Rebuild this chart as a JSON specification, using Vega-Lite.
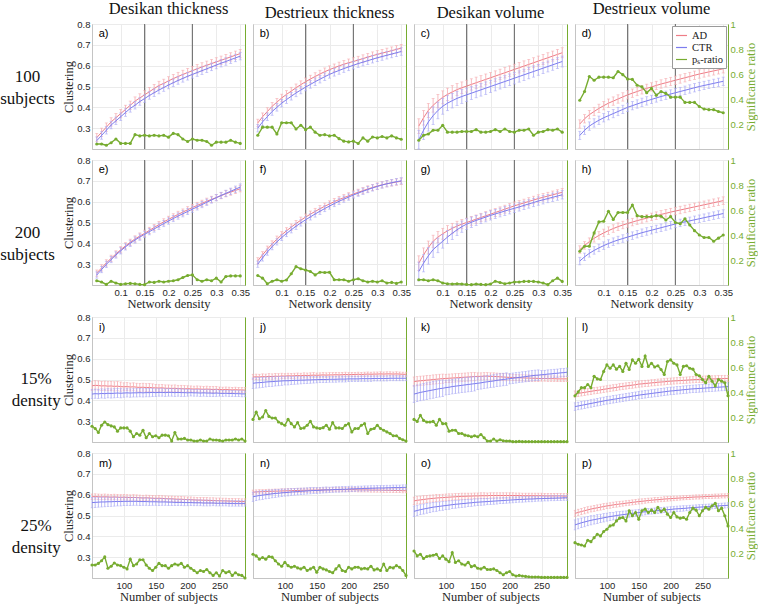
{"$schema":"https://vega.github.io/schema/vega-lite/v6.json","background":"white","padding":{"left":0,"top":0,"right":0,"bottom":0},
"config":{"view":{"stroke":"#c4c4c4"},"axis":{"minExtent":0,"labelOverlap":false,"labelFlush":false,"labelBound":false,"domainColor":"#c4c4c4","gridColor":"#ebebeb","ticks":false,"tickSize":0,"labelFont":"Liberation Sans","labelFontSize":9.5,"labelColor":"#262626","labelPadding":2,"titleFont":"Liberation Serif","titleFontSize":12.5,"titleFontWeight":"normal","titleColor":"#262626","titlePadding":1},"title":{"font":"Liberation Serif","fontSize":16.5,"fontWeight":"normal","color":"#111111"}},
"datasets":{"v":[{"v":0.15},{"v":0.25}],
"d":[
{"p":"a","x":0.05,"a":0.255,"ae":0.02,"c":0.24,"ce":0.018,"r":0.04},{"p":"a","x":0.06,"a":0.28,"ae":0.02,"c":0.265,"ce":0.018,"r":0.04},{"p":"a","x":0.07,"a":0.305,"ae":0.02,"c":0.29,"ce":0.018,"r":0.03},{"p":"a","x":0.08,"a":0.33,"ae":0.02,"c":0.315,"ce":0.018,"r":0.05},{"p":"a","x":0.09,"a":0.35,"ae":0.02,"c":0.335,"ce":0.018,"r":0.08},{"p":"a","x":0.1,"a":0.37,"ae":0.02,"c":0.355,"ce":0.018,"r":0.045},{"p":"a","x":0.11,"a":0.39,"ae":0.02,"c":0.375,"ce":0.018,"r":0.045},{"p":"a","x":0.12,"a":0.41,"ae":0.02,"c":0.395,"ce":0.018,"r":0.045},{"p":"a","x":0.13,"a":0.43,"ae":0.02,"c":0.41,"ce":0.018,"r":0.115},{"p":"a","x":0.14,"a":0.445,"ae":0.02,"c":0.428,"ce":0.018,"r":0.105},{"p":"a","x":0.15,"a":0.46,"ae":0.02,"c":0.442,"ce":0.018,"r":0.11},{"p":"a","x":0.16,"a":0.475,"ae":0.02,"c":0.457,"ce":0.018,"r":0.105},{"p":"a","x":0.17,"a":0.49,"ae":0.02,"c":0.47,"ce":0.018,"r":0.11},{"p":"a","x":0.18,"a":0.505,"ae":0.02,"c":0.483,"ce":0.018,"r":0.105},{"p":"a","x":0.19,"a":0.515,"ae":0.02,"c":0.495,"ce":0.018,"r":0.11},{"p":"a","x":0.2,"a":0.527,"ae":0.02,"c":0.507,"ce":0.018,"r":0.095},{"p":"a","x":0.21,"a":0.538,"ae":0.02,"c":0.518,"ce":0.018,"r":0.125},{"p":"a","x":0.22,"a":0.548,"ae":0.02,"c":0.529,"ce":0.018,"r":0.115},{"p":"a","x":0.23,"a":0.558,"ae":0.02,"c":0.539,"ce":0.018,"r":0.08},{"p":"a","x":0.24,"a":0.567,"ae":0.02,"c":0.549,"ce":0.018,"r":0.06},{"p":"a","x":0.25,"a":0.576,"ae":0.02,"c":0.558,"ce":0.018,"r":0.08},{"p":"a","x":0.26,"a":0.585,"ae":0.02,"c":0.567,"ce":0.018,"r":0.07},{"p":"a","x":0.27,"a":0.594,"ae":0.02,"c":0.576,"ce":0.018,"r":0.07},{"p":"a","x":0.28,"a":0.602,"ae":0.02,"c":0.585,"ce":0.018,"r":0.06},{"p":"a","x":0.29,"a":0.61,"ae":0.02,"c":0.594,"ce":0.018,"r":0.03},{"p":"a","x":0.3,"a":0.618,"ae":0.02,"c":0.603,"ce":0.018,"r":0.055},{"p":"a","x":0.31,"a":0.626,"ae":0.02,"c":0.612,"ce":0.018,"r":0.055},{"p":"a","x":0.32,"a":0.634,"ae":0.02,"c":0.62,"ce":0.018,"r":0.055},{"p":"a","x":0.33,"a":0.642,"ae":0.02,"c":0.629,"ce":0.018,"r":0.07},{"p":"a","x":0.34,"a":0.65,"ae":0.02,"c":0.637,"ce":0.018,"r":0.055},{"p":"a","x":0.35,"a":0.658,"ae":0.02,"c":0.646,"ce":0.018,"r":0.045},
{"p":"b","x":0.05,"a":0.325,"ae":0.018,"c":0.3,"ce":0.018,"r":0.11},{"p":"b","x":0.06,"a":0.355,"ae":0.018,"c":0.33,"ce":0.018,"r":0.175},{"p":"b","x":0.07,"a":0.38,"ae":0.018,"c":0.355,"ce":0.018,"r":0.175},{"p":"b","x":0.08,"a":0.405,"ae":0.018,"c":0.38,"ce":0.018,"r":0.175},{"p":"b","x":0.09,"a":0.425,"ae":0.018,"c":0.4,"ce":0.018,"r":0.12},{"p":"b","x":0.1,"a":0.445,"ae":0.018,"c":0.42,"ce":0.018,"r":0.21},{"p":"b","x":0.11,"a":0.462,"ae":0.018,"c":0.437,"ce":0.018,"r":0.21},{"p":"b","x":0.12,"a":0.478,"ae":0.018,"c":0.453,"ce":0.018,"r":0.21},{"p":"b","x":0.13,"a":0.494,"ae":0.018,"c":0.469,"ce":0.018,"r":0.16},{"p":"b","x":0.14,"a":0.509,"ae":0.018,"c":0.483,"ce":0.018,"r":0.19},{"p":"b","x":0.15,"a":0.523,"ae":0.018,"c":0.497,"ce":0.018,"r":0.155},{"p":"b","x":0.16,"a":0.536,"ae":0.018,"c":0.51,"ce":0.018,"r":0.175},{"p":"b","x":0.17,"a":0.548,"ae":0.018,"c":0.523,"ce":0.018,"r":0.135},{"p":"b","x":0.18,"a":0.56,"ae":0.018,"c":0.535,"ce":0.018,"r":0.11},{"p":"b","x":0.19,"a":0.571,"ae":0.018,"c":0.547,"ce":0.018,"r":0.115},{"p":"b","x":0.2,"a":0.581,"ae":0.018,"c":0.558,"ce":0.018,"r":0.105},{"p":"b","x":0.21,"a":0.59,"ae":0.018,"c":0.568,"ce":0.018,"r":0.11},{"p":"b","x":0.22,"a":0.599,"ae":0.018,"c":0.577,"ce":0.018,"r":0.083},{"p":"b","x":0.23,"a":0.607,"ae":0.018,"c":0.586,"ce":0.018,"r":0.063},{"p":"b","x":0.24,"a":0.614,"ae":0.018,"c":0.594,"ce":0.018,"r":0.057},{"p":"b","x":0.25,"a":0.62,"ae":0.018,"c":0.602,"ce":0.018,"r":0.063},{"p":"b","x":0.26,"a":0.627,"ae":0.018,"c":0.61,"ce":0.018,"r":0.044},{"p":"b","x":0.27,"a":0.634,"ae":0.018,"c":0.617,"ce":0.018,"r":0.089},{"p":"b","x":0.28,"a":0.641,"ae":0.018,"c":0.624,"ce":0.018,"r":0.063},{"p":"b","x":0.29,"a":0.648,"ae":0.018,"c":0.631,"ce":0.018,"r":0.096},{"p":"b","x":0.3,"a":0.654,"ae":0.018,"c":0.638,"ce":0.018,"r":0.089},{"p":"b","x":0.31,"a":0.66,"ae":0.018,"c":0.644,"ce":0.018,"r":0.1},{"p":"b","x":0.32,"a":0.666,"ae":0.018,"c":0.65,"ce":0.018,"r":0.089},{"p":"b","x":0.33,"a":0.672,"ae":0.018,"c":0.656,"ce":0.018,"r":0.105},{"p":"b","x":0.34,"a":0.678,"ae":0.018,"c":0.662,"ce":0.018,"r":0.089},{"p":"b","x":0.35,"a":0.684,"ae":0.018,"c":0.668,"ce":0.018,"r":0.078},
{"p":"c","x":0.05,"a":0.31,"ae":0.035,"c":0.245,"ce":0.045,"r":0.07},{"p":"c","x":0.06,"a":0.35,"ae":0.035,"c":0.29,"ce":0.045,"r":0.11},{"p":"c","x":0.07,"a":0.385,"ae":0.034,"c":0.33,"ce":0.044,"r":0.12},{"p":"c","x":0.08,"a":0.41,"ae":0.033,"c":0.36,"ce":0.042,"r":0.15},{"p":"c","x":0.09,"a":0.43,"ae":0.032,"c":0.385,"ce":0.04,"r":0.15},{"p":"c","x":0.1,"a":0.448,"ae":0.031,"c":0.405,"ce":0.038,"r":0.19},{"p":"c","x":0.11,"a":0.462,"ae":0.03,"c":0.42,"ce":0.036,"r":0.135},{"p":"c","x":0.12,"a":0.474,"ae":0.03,"c":0.432,"ce":0.035,"r":0.135},{"p":"c","x":0.13,"a":0.485,"ae":0.029,"c":0.443,"ce":0.034,"r":0.135},{"p":"c","x":0.14,"a":0.494,"ae":0.028,"c":0.452,"ce":0.033,"r":0.14},{"p":"c","x":0.15,"a":0.502,"ae":0.028,"c":0.46,"ce":0.032,"r":0.14},{"p":"c","x":0.16,"a":0.51,"ae":0.027,"c":0.468,"ce":0.031,"r":0.14},{"p":"c","x":0.17,"a":0.518,"ae":0.027,"c":0.476,"ce":0.03,"r":0.155},{"p":"c","x":0.18,"a":0.526,"ae":0.026,"c":0.484,"ce":0.03,"r":0.135},{"p":"c","x":0.19,"a":0.534,"ae":0.026,"c":0.492,"ce":0.03,"r":0.135},{"p":"c","x":0.2,"a":0.542,"ae":0.025,"c":0.5,"ce":0.029,"r":0.14},{"p":"c","x":0.21,"a":0.55,"ae":0.025,"c":0.508,"ce":0.029,"r":0.155},{"p":"c","x":0.22,"a":0.558,"ae":0.025,"c":0.516,"ce":0.028,"r":0.14},{"p":"c","x":0.23,"a":0.566,"ae":0.025,"c":0.524,"ce":0.028,"r":0.16},{"p":"c","x":0.24,"a":0.574,"ae":0.025,"c":0.532,"ce":0.028,"r":0.14},{"p":"c","x":0.25,"a":0.582,"ae":0.025,"c":0.54,"ce":0.028,"r":0.135},{"p":"c","x":0.26,"a":0.59,"ae":0.025,"c":0.548,"ce":0.027,"r":0.15},{"p":"c","x":0.27,"a":0.598,"ae":0.025,"c":0.556,"ce":0.027,"r":0.15},{"p":"c","x":0.28,"a":0.606,"ae":0.024,"c":0.564,"ce":0.027,"r":0.16},{"p":"c","x":0.29,"a":0.614,"ae":0.024,"c":0.572,"ce":0.027,"r":0.11},{"p":"c","x":0.3,"a":0.622,"ae":0.024,"c":0.58,"ce":0.026,"r":0.135},{"p":"c","x":0.31,"a":0.63,"ae":0.024,"c":0.588,"ce":0.026,"r":0.14},{"p":"c","x":0.32,"a":0.638,"ae":0.024,"c":0.596,"ce":0.026,"r":0.155},{"p":"c","x":0.33,"a":0.646,"ae":0.024,"c":0.604,"ce":0.026,"r":0.15},{"p":"c","x":0.34,"a":0.654,"ae":0.024,"c":0.612,"ce":0.026,"r":0.16},{"p":"c","x":0.35,"a":0.662,"ae":0.024,"c":0.62,"ce":0.026,"r":0.135},
{"p":"d","x":0.05,"a":0.32,"ae":0.02,"c":0.265,"ce":0.02,"r":0.39},{"p":"d","x":0.06,"a":0.345,"ae":0.02,"c":0.29,"ce":0.02,"r":0.46},{"p":"d","x":0.07,"a":0.365,"ae":0.02,"c":0.31,"ce":0.02,"r":0.58},{"p":"d","x":0.08,"a":0.38,"ae":0.02,"c":0.325,"ce":0.02,"r":0.55},{"p":"d","x":0.09,"a":0.395,"ae":0.02,"c":0.338,"ce":0.02,"r":0.575},{"p":"d","x":0.1,"a":0.408,"ae":0.02,"c":0.35,"ce":0.02,"r":0.575},{"p":"d","x":0.11,"a":0.42,"ae":0.02,"c":0.36,"ce":0.02,"r":0.575},{"p":"d","x":0.12,"a":0.43,"ae":0.02,"c":0.37,"ce":0.02,"r":0.57},{"p":"d","x":0.13,"a":0.44,"ae":0.02,"c":0.38,"ce":0.02,"r":0.62},{"p":"d","x":0.14,"a":0.45,"ae":0.02,"c":0.39,"ce":0.02,"r":0.595},{"p":"d","x":0.15,"a":0.46,"ae":0.02,"c":0.4,"ce":0.02,"r":0.56},{"p":"d","x":0.16,"a":0.468,"ae":0.02,"c":0.408,"ce":0.02,"r":0.557},{"p":"d","x":0.17,"a":0.476,"ae":0.02,"c":0.416,"ce":0.02,"r":0.51},{"p":"d","x":0.18,"a":0.484,"ae":0.02,"c":0.424,"ce":0.02,"r":0.497},{"p":"d","x":0.19,"a":0.491,"ae":0.02,"c":0.431,"ce":0.02,"r":0.45},{"p":"d","x":0.2,"a":0.498,"ae":0.02,"c":0.438,"ce":0.02,"r":0.485},{"p":"d","x":0.21,"a":0.505,"ae":0.02,"c":0.445,"ce":0.02,"r":0.43},{"p":"d","x":0.22,"a":0.512,"ae":0.02,"c":0.452,"ce":0.02,"r":0.46},{"p":"d","x":0.23,"a":0.518,"ae":0.02,"c":0.458,"ce":0.02,"r":0.445},{"p":"d","x":0.24,"a":0.524,"ae":0.02,"c":0.464,"ce":0.02,"r":0.415},{"p":"d","x":0.25,"a":0.53,"ae":0.02,"c":0.47,"ce":0.02,"r":0.415},{"p":"d","x":0.26,"a":0.536,"ae":0.02,"c":0.476,"ce":0.02,"r":0.415},{"p":"d","x":0.27,"a":0.542,"ae":0.02,"c":0.482,"ce":0.02,"r":0.373},{"p":"d","x":0.28,"a":0.548,"ae":0.02,"c":0.488,"ce":0.02,"r":0.373},{"p":"d","x":0.29,"a":0.554,"ae":0.02,"c":0.494,"ce":0.02,"r":0.373},{"p":"d","x":0.3,"a":0.56,"ae":0.02,"c":0.5,"ce":0.02,"r":0.34},{"p":"d","x":0.31,"a":0.565,"ae":0.02,"c":0.505,"ce":0.02,"r":0.32},{"p":"d","x":0.32,"a":0.57,"ae":0.02,"c":0.51,"ce":0.02,"r":0.315},{"p":"d","x":0.33,"a":0.575,"ae":0.02,"c":0.515,"ce":0.02,"r":0.315},{"p":"d","x":0.34,"a":0.58,"ae":0.02,"c":0.52,"ce":0.02,"r":0.3},{"p":"d","x":0.35,"a":0.585,"ae":0.02,"c":0.525,"ce":0.02,"r":0.29},
{"p":"e","x":0.05,"a":0.257,"ae":0.015,"c":0.248,"ce":0.015,"r":0.034},{"p":"e","x":0.06,"a":0.282,"ae":0.015,"c":0.274,"ce":0.015,"r":0.024},{"p":"e","x":0.07,"a":0.306,"ae":0.015,"c":0.299,"ce":0.015,"r":0.005},{"p":"e","x":0.08,"a":0.328,"ae":0.015,"c":0.322,"ce":0.015,"r":0.03},{"p":"e","x":0.09,"a":0.349,"ae":0.015,"c":0.344,"ce":0.015,"r":0.016},{"p":"e","x":0.1,"a":0.369,"ae":0.015,"c":0.364,"ce":0.015,"r":0.005},{"p":"e","x":0.11,"a":0.388,"ae":0.015,"c":0.383,"ce":0.015,"r":0.01},{"p":"e","x":0.12,"a":0.405,"ae":0.015,"c":0.4,"ce":0.015,"r":0.013},{"p":"e","x":0.13,"a":0.421,"ae":0.015,"c":0.416,"ce":0.015,"r":0.01},{"p":"e","x":0.14,"a":0.435,"ae":0.015,"c":0.43,"ce":0.015,"r":0.005},{"p":"e","x":0.15,"a":0.448,"ae":0.015,"c":0.443,"ce":0.015,"r":0.003},{"p":"e","x":0.16,"a":0.462,"ae":0.015,"c":0.456,"ce":0.015,"r":0.024},{"p":"e","x":0.17,"a":0.476,"ae":0.015,"c":0.469,"ce":0.015,"r":0.021},{"p":"e","x":0.18,"a":0.49,"ae":0.015,"c":0.482,"ce":0.015,"r":0.03},{"p":"e","x":0.19,"a":0.503,"ae":0.015,"c":0.495,"ce":0.015,"r":0.024},{"p":"e","x":0.2,"a":0.515,"ae":0.015,"c":0.507,"ce":0.015,"r":0.03},{"p":"e","x":0.21,"a":0.527,"ae":0.015,"c":0.519,"ce":0.015,"r":0.034},{"p":"e","x":0.22,"a":0.539,"ae":0.015,"c":0.531,"ce":0.015,"r":0.042},{"p":"e","x":0.23,"a":0.55,"ae":0.015,"c":0.542,"ce":0.015,"r":0.06},{"p":"e","x":0.24,"a":0.561,"ae":0.015,"c":0.553,"ce":0.015,"r":0.076},{"p":"e","x":0.25,"a":0.572,"ae":0.015,"c":0.564,"ce":0.015,"r":0.081},{"p":"e","x":0.26,"a":0.582,"ae":0.015,"c":0.575,"ce":0.015,"r":0.042},{"p":"e","x":0.27,"a":0.592,"ae":0.015,"c":0.586,"ce":0.015,"r":0.03},{"p":"e","x":0.28,"a":0.602,"ae":0.015,"c":0.597,"ce":0.015,"r":0.042},{"p":"e","x":0.29,"a":0.611,"ae":0.015,"c":0.608,"ce":0.015,"r":0.034},{"p":"e","x":0.3,"a":0.62,"ae":0.015,"c":0.619,"ce":0.015,"r":0.055},{"p":"e","x":0.31,"a":0.629,"ae":0.015,"c":0.63,"ce":0.015,"r":0.024},{"p":"e","x":0.32,"a":0.638,"ae":0.015,"c":0.64,"ce":0.015,"r":0.068},{"p":"e","x":0.33,"a":0.646,"ae":0.015,"c":0.65,"ce":0.015,"r":0.073},{"p":"e","x":0.34,"a":0.654,"ae":0.015,"c":0.66,"ce":0.015,"r":0.073},{"p":"e","x":0.35,"a":0.662,"ae":0.015,"c":0.67,"ce":0.015,"r":0.073},
{"p":"f","x":0.05,"a":0.316,"ae":0.015,"c":0.3,"ce":0.015,"r":0.076},{"p":"f","x":0.06,"a":0.345,"ae":0.015,"c":0.33,"ce":0.015,"r":0.055},{"p":"f","x":0.07,"a":0.372,"ae":0.015,"c":0.358,"ce":0.015,"r":0.01},{"p":"f","x":0.08,"a":0.397,"ae":0.015,"c":0.384,"ce":0.015,"r":0.03},{"p":"f","x":0.09,"a":0.42,"ae":0.015,"c":0.407,"ce":0.015,"r":0.042},{"p":"f","x":0.1,"a":0.441,"ae":0.015,"c":0.428,"ce":0.015,"r":0.03},{"p":"f","x":0.11,"a":0.46,"ae":0.015,"c":0.447,"ce":0.015,"r":0.04},{"p":"f","x":0.12,"a":0.478,"ae":0.015,"c":0.465,"ce":0.015,"r":0.09},{"p":"f","x":0.13,"a":0.495,"ae":0.015,"c":0.482,"ce":0.015,"r":0.147},{"p":"f","x":0.14,"a":0.511,"ae":0.015,"c":0.498,"ce":0.015,"r":0.13},{"p":"f","x":0.15,"a":0.526,"ae":0.015,"c":0.513,"ce":0.015,"r":0.12},{"p":"f","x":0.16,"a":0.54,"ae":0.015,"c":0.527,"ce":0.015,"r":0.108},{"p":"f","x":0.17,"a":0.553,"ae":0.015,"c":0.541,"ce":0.015,"r":0.081},{"p":"f","x":0.18,"a":0.566,"ae":0.015,"c":0.554,"ce":0.015,"r":0.102},{"p":"f","x":0.19,"a":0.578,"ae":0.015,"c":0.567,"ce":0.015,"r":0.1},{"p":"f","x":0.2,"a":0.589,"ae":0.015,"c":0.579,"ce":0.015,"r":0.102},{"p":"f","x":0.21,"a":0.6,"ae":0.015,"c":0.591,"ce":0.015,"r":0.042},{"p":"f","x":0.22,"a":0.61,"ae":0.015,"c":0.602,"ce":0.015,"r":0.042},{"p":"f","x":0.23,"a":0.619,"ae":0.015,"c":0.612,"ce":0.015,"r":0.042},{"p":"f","x":0.24,"a":0.628,"ae":0.015,"c":0.622,"ce":0.015,"r":0.03},{"p":"f","x":0.25,"a":0.637,"ae":0.015,"c":0.632,"ce":0.015,"r":0.042},{"p":"f","x":0.26,"a":0.645,"ae":0.015,"c":0.641,"ce":0.015,"r":0.05},{"p":"f","x":0.27,"a":0.653,"ae":0.015,"c":0.65,"ce":0.015,"r":0.034},{"p":"f","x":0.28,"a":0.661,"ae":0.015,"c":0.658,"ce":0.015,"r":0.024},{"p":"f","x":0.29,"a":0.668,"ae":0.015,"c":0.666,"ce":0.015,"r":0.03},{"p":"f","x":0.3,"a":0.675,"ae":0.015,"c":0.673,"ce":0.015,"r":0.024},{"p":"f","x":0.31,"a":0.681,"ae":0.015,"c":0.68,"ce":0.015,"r":0.034},{"p":"f","x":0.32,"a":0.686,"ae":0.015,"c":0.686,"ce":0.015,"r":0.016},{"p":"f","x":0.33,"a":0.69,"ae":0.015,"c":0.691,"ce":0.015,"r":0.021},{"p":"f","x":0.34,"a":0.694,"ae":0.015,"c":0.696,"ce":0.015,"r":0.013},{"p":"f","x":0.35,"a":0.698,"ae":0.015,"c":0.7,"ce":0.015,"r":0.024},
{"p":"g","x":0.05,"a":0.305,"ae":0.035,"c":0.265,"ce":0.045,"r":0.042},{"p":"g","x":0.06,"a":0.345,"ae":0.033,"c":0.305,"ce":0.042,"r":0.042},{"p":"g","x":0.07,"a":0.38,"ae":0.031,"c":0.34,"ce":0.04,"r":0.034},{"p":"g","x":0.08,"a":0.41,"ae":0.029,"c":0.37,"ce":0.037,"r":0.042},{"p":"g","x":0.09,"a":0.43,"ae":0.027,"c":0.39,"ce":0.035,"r":0.034},{"p":"g","x":0.1,"a":0.446,"ae":0.026,"c":0.41,"ce":0.033,"r":0.016},{"p":"g","x":0.11,"a":0.46,"ae":0.025,"c":0.43,"ce":0.031,"r":0.01},{"p":"g","x":0.12,"a":0.472,"ae":0.024,"c":0.448,"ce":0.03,"r":0.008},{"p":"g","x":0.13,"a":0.483,"ae":0.023,"c":0.465,"ce":0.028,"r":0.01},{"p":"g","x":0.14,"a":0.492,"ae":0.022,"c":0.48,"ce":0.027,"r":0.008},{"p":"g","x":0.15,"a":0.5,"ae":0.021,"c":0.492,"ce":0.026,"r":0.005},{"p":"g","x":0.16,"a":0.508,"ae":0.021,"c":0.501,"ce":0.025,"r":0.003},{"p":"g","x":0.17,"a":0.516,"ae":0.02,"c":0.51,"ce":0.024,"r":0.008},{"p":"g","x":0.18,"a":0.524,"ae":0.02,"c":0.518,"ce":0.023,"r":0.005},{"p":"g","x":0.19,"a":0.532,"ae":0.02,"c":0.526,"ce":0.023,"r":0.003},{"p":"g","x":0.2,"a":0.54,"ae":0.02,"c":0.534,"ce":0.022,"r":0.008},{"p":"g","x":0.21,"a":0.548,"ae":0.019,"c":0.541,"ce":0.022,"r":0.03},{"p":"g","x":0.22,"a":0.556,"ae":0.019,"c":0.548,"ce":0.021,"r":0.02},{"p":"g","x":0.23,"a":0.564,"ae":0.019,"c":0.555,"ce":0.021,"r":0.01},{"p":"g","x":0.24,"a":0.572,"ae":0.019,"c":0.562,"ce":0.021,"r":0.016},{"p":"g","x":0.25,"a":0.58,"ae":0.019,"c":0.568,"ce":0.02,"r":0.024},{"p":"g","x":0.26,"a":0.587,"ae":0.018,"c":0.575,"ce":0.02,"r":0.024},{"p":"g","x":0.27,"a":0.594,"ae":0.018,"c":0.582,"ce":0.02,"r":0.029},{"p":"g","x":0.28,"a":0.601,"ae":0.018,"c":0.589,"ce":0.02,"r":0.029},{"p":"g","x":0.29,"a":0.608,"ae":0.018,"c":0.596,"ce":0.02,"r":0.029},{"p":"g","x":0.3,"a":0.615,"ae":0.018,"c":0.603,"ce":0.02,"r":0.024},{"p":"g","x":0.31,"a":0.621,"ae":0.018,"c":0.609,"ce":0.02,"r":0.016},{"p":"g","x":0.32,"a":0.627,"ae":0.018,"c":0.615,"ce":0.02,"r":0.003},{"p":"g","x":0.33,"a":0.633,"ae":0.018,"c":0.621,"ce":0.02,"r":0.034},{"p":"g","x":0.34,"a":0.639,"ae":0.018,"c":0.627,"ce":0.02,"r":0.055},{"p":"g","x":0.35,"a":0.645,"ae":0.018,"c":0.633,"ce":0.02,"r":0.029},
{"p":"h","x":0.05,"a":0.37,"ae":0.018,"c":0.315,"ce":0.018,"r":0.27},{"p":"h","x":0.06,"a":0.39,"ae":0.018,"c":0.335,"ce":0.018,"r":0.31},{"p":"h","x":0.07,"a":0.408,"ae":0.018,"c":0.352,"ce":0.018,"r":0.31},{"p":"h","x":0.08,"a":0.424,"ae":0.018,"c":0.366,"ce":0.018,"r":0.417},{"p":"h","x":0.09,"a":0.438,"ae":0.018,"c":0.378,"ce":0.018,"r":0.505},{"p":"h","x":0.1,"a":0.45,"ae":0.018,"c":0.389,"ce":0.018,"r":0.51},{"p":"h","x":0.11,"a":0.461,"ae":0.018,"c":0.399,"ce":0.018,"r":0.59},{"p":"h","x":0.12,"a":0.471,"ae":0.018,"c":0.408,"ce":0.018,"r":0.525},{"p":"h","x":0.13,"a":0.48,"ae":0.018,"c":0.416,"ce":0.018,"r":0.58},{"p":"h","x":0.14,"a":0.488,"ae":0.018,"c":0.423,"ce":0.018,"r":0.58},{"p":"h","x":0.15,"a":0.495,"ae":0.018,"c":0.43,"ce":0.018,"r":0.58},{"p":"h","x":0.16,"a":0.502,"ae":0.018,"c":0.437,"ce":0.018,"r":0.64},{"p":"h","x":0.17,"a":0.509,"ae":0.018,"c":0.444,"ce":0.018,"r":0.555},{"p":"h","x":0.18,"a":0.515,"ae":0.018,"c":0.451,"ce":0.018,"r":0.547},{"p":"h","x":0.19,"a":0.521,"ae":0.018,"c":0.457,"ce":0.018,"r":0.547},{"p":"h","x":0.2,"a":0.527,"ae":0.018,"c":0.463,"ce":0.018,"r":0.547},{"p":"h","x":0.21,"a":0.533,"ae":0.018,"c":0.469,"ce":0.018,"r":0.555},{"p":"h","x":0.22,"a":0.539,"ae":0.018,"c":0.475,"ce":0.018,"r":0.55},{"p":"h","x":0.23,"a":0.544,"ae":0.018,"c":0.481,"ce":0.018,"r":0.52},{"p":"h","x":0.24,"a":0.55,"ae":0.018,"c":0.487,"ce":0.018,"r":0.547},{"p":"h","x":0.25,"a":0.555,"ae":0.018,"c":0.493,"ce":0.018,"r":0.5},{"p":"h","x":0.26,"a":0.56,"ae":0.018,"c":0.498,"ce":0.018,"r":0.49},{"p":"h","x":0.27,"a":0.565,"ae":0.018,"c":0.503,"ce":0.018,"r":0.53},{"p":"h","x":0.28,"a":0.57,"ae":0.018,"c":0.508,"ce":0.018,"r":0.48},{"p":"h","x":0.29,"a":0.575,"ae":0.018,"c":0.513,"ce":0.018,"r":0.435},{"p":"h","x":0.3,"a":0.58,"ae":0.018,"c":0.518,"ce":0.018,"r":0.4},{"p":"h","x":0.31,"a":0.585,"ae":0.018,"c":0.523,"ce":0.018,"r":0.38},{"p":"h","x":0.32,"a":0.59,"ae":0.018,"c":0.528,"ce":0.018,"r":0.38},{"p":"h","x":0.33,"a":0.595,"ae":0.018,"c":0.533,"ce":0.018,"r":0.35},{"p":"h","x":0.34,"a":0.6,"ae":0.018,"c":0.538,"ce":0.018,"r":0.375},{"p":"h","x":0.35,"a":0.605,"ae":0.018,"c":0.543,"ce":0.018,"r":0.4},
{"p":"i","x":50,"a":0.47,"ae":0.022,"c":0.43,"ce":0.022,"r":0.126},{"p":"i","x":55,"a":0.472,"ae":0.022,"c":0.432,"ce":0.022,"r":0.108},{"p":"i","x":60,"a":0.471,"ae":0.022,"c":0.431,"ce":0.022,"r":0.076},{"p":"i","x":65,"a":0.469,"ae":0.022,"c":0.433,"ce":0.022,"r":0.134},{"p":"i","x":70,"a":0.47,"ae":0.022,"c":0.432,"ce":0.022,"r":0.16},{"p":"i","x":75,"a":0.468,"ae":0.022,"c":0.434,"ce":0.022,"r":0.139},{"p":"i","x":80,"a":0.469,"ae":0.022,"c":0.433,"ce":0.022,"r":0.129},{"p":"i","x":85,"a":0.467,"ae":0.022,"c":0.434,"ce":0.022,"r":0.121},{"p":"i","x":90,"a":0.468,"ae":0.022,"c":0.435,"ce":0.022,"r":0.087},{"p":"i","x":95,"a":0.466,"ae":0.022,"c":0.434,"ce":0.022,"r":0.113},{"p":"i","x":100,"a":0.465,"ae":0.019,"c":0.435,"ce":0.02,"r":0.113},{"p":"i","x":105,"a":0.466,"ae":0.019,"c":0.436,"ce":0.02,"r":0.113},{"p":"i","x":110,"a":0.464,"ae":0.019,"c":0.435,"ce":0.02,"r":0.087},{"p":"i","x":115,"a":0.465,"ae":0.019,"c":0.436,"ce":0.02,"r":0.042},{"p":"i","x":120,"a":0.463,"ae":0.019,"c":0.436,"ce":0.02,"r":0.068},{"p":"i","x":125,"a":0.462,"ae":0.019,"c":0.437,"ce":0.02,"r":0.055},{"p":"i","x":130,"a":0.463,"ae":0.019,"c":0.436,"ce":0.02,"r":0.094},{"p":"i","x":135,"a":0.461,"ae":0.019,"c":0.437,"ce":0.02,"r":0.034},{"p":"i","x":140,"a":0.462,"ae":0.019,"c":0.437,"ce":0.02,"r":0.068},{"p":"i","x":145,"a":0.46,"ae":0.019,"c":0.438,"ce":0.02,"r":0.042},{"p":"i","x":150,"a":0.46,"ae":0.016,"c":0.437,"ce":0.018,"r":0.05},{"p":"i","x":155,"a":0.459,"ae":0.016,"c":0.438,"ce":0.018,"r":0.034},{"p":"i","x":160,"a":0.46,"ae":0.016,"c":0.438,"ce":0.018,"r":0.055},{"p":"i","x":165,"a":0.458,"ae":0.016,"c":0.437,"ce":0.018,"r":0.055},{"p":"i","x":170,"a":0.458,"ae":0.016,"c":0.438,"ce":0.018,"r":0.05},{"p":"i","x":175,"a":0.457,"ae":0.016,"c":0.438,"ce":0.018,"r":0.008},{"p":"i","x":180,"a":0.458,"ae":0.016,"c":0.437,"ce":0.018,"r":0.076},{"p":"i","x":185,"a":0.456,"ae":0.016,"c":0.438,"ce":0.018,"r":0.024},{"p":"i","x":190,"a":0.456,"ae":0.016,"c":0.437,"ce":0.018,"r":0.024},{"p":"i","x":195,"a":0.455,"ae":0.016,"c":0.437,"ce":0.018,"r":0.029},{"p":"i","x":200,"a":0.456,"ae":0.014,"c":0.436,"ce":0.016,"r":0.016},{"p":"i","x":205,"a":0.455,"ae":0.014,"c":0.437,"ce":0.016,"r":0.016},{"p":"i","x":210,"a":0.454,"ae":0.014,"c":0.436,"ce":0.016,"r":0.008},{"p":"i","x":215,"a":0.455,"ae":0.014,"c":0.436,"ce":0.016,"r":0.008},{"p":"i","x":220,"a":0.454,"ae":0.014,"c":0.435,"ce":0.016,"r":0.016},{"p":"i","x":225,"a":0.453,"ae":0.014,"c":0.436,"ce":0.016,"r":0.008},{"p":"i","x":230,"a":0.454,"ae":0.014,"c":0.435,"ce":0.016,"r":0.008},{"p":"i","x":235,"a":0.453,"ae":0.014,"c":0.435,"ce":0.016,"r":0.024},{"p":"i","x":240,"a":0.452,"ae":0.014,"c":0.434,"ce":0.016,"r":0.016},{"p":"i","x":245,"a":0.453,"ae":0.014,"c":0.435,"ce":0.016,"r":0.016},{"p":"i","x":250,"a":0.452,"ae":0.012,"c":0.434,"ce":0.014,"r":0.013},{"p":"i","x":255,"a":0.451,"ae":0.012,"c":0.433,"ce":0.014,"r":0.008},{"p":"i","x":260,"a":0.452,"ae":0.012,"c":0.434,"ce":0.014,"r":0.016},{"p":"i","x":265,"a":0.451,"ae":0.012,"c":0.433,"ce":0.014,"r":0.016},{"p":"i","x":270,"a":0.45,"ae":0.012,"c":0.433,"ce":0.014,"r":0.016},{"p":"i","x":275,"a":0.451,"ae":0.012,"c":0.432,"ce":0.014,"r":0.024},{"p":"i","x":280,"a":0.45,"ae":0.012,"c":0.432,"ce":0.014,"r":0.016},{"p":"i","x":285,"a":0.45,"ae":0.012,"c":0.431,"ce":0.014,"r":0.024},{"p":"i","x":290,"a":0.449,"ae":0.012,"c":0.431,"ce":0.014,"r":0.008},
{"p":"j","x":50,"a":0.512,"ae":0.013,"c":0.482,"ce":0.025,"r":0.181},{"p":"j","x":55,"a":0.513,"ae":0.013,"c":0.484,"ce":0.025,"r":0.239},{"p":"j","x":60,"a":0.512,"ae":0.013,"c":0.485,"ce":0.025,"r":0.186},{"p":"j","x":65,"a":0.514,"ae":0.013,"c":0.486,"ce":0.024,"r":0.2},{"p":"j","x":70,"a":0.513,"ae":0.013,"c":0.488,"ce":0.024,"r":0.252},{"p":"j","x":75,"a":0.515,"ae":0.013,"c":0.489,"ce":0.023,"r":0.205},{"p":"j","x":80,"a":0.514,"ae":0.013,"c":0.49,"ce":0.023,"r":0.192},{"p":"j","x":85,"a":0.516,"ae":0.013,"c":0.491,"ce":0.022,"r":0.192},{"p":"j","x":90,"a":0.515,"ae":0.013,"c":0.492,"ce":0.022,"r":0.16},{"p":"j","x":95,"a":0.517,"ae":0.013,"c":0.493,"ce":0.021,"r":0.147},{"p":"j","x":100,"a":0.516,"ae":0.012,"c":0.494,"ce":0.02,"r":0.134},{"p":"j","x":105,"a":0.518,"ae":0.012,"c":0.494,"ce":0.02,"r":0.181},{"p":"j","x":110,"a":0.517,"ae":0.012,"c":0.495,"ce":0.019,"r":0.147},{"p":"j","x":115,"a":0.518,"ae":0.012,"c":0.496,"ce":0.019,"r":0.121},{"p":"j","x":120,"a":0.519,"ae":0.012,"c":0.496,"ce":0.018,"r":0.155},{"p":"j","x":125,"a":0.518,"ae":0.012,"c":0.497,"ce":0.018,"r":0.108},{"p":"j","x":130,"a":0.52,"ae":0.012,"c":0.497,"ce":0.017,"r":0.113},{"p":"j","x":135,"a":0.519,"ae":0.012,"c":0.498,"ce":0.017,"r":0.134},{"p":"j","x":140,"a":0.52,"ae":0.012,"c":0.498,"ce":0.016,"r":0.165},{"p":"j","x":145,"a":0.521,"ae":0.012,"c":0.499,"ce":0.016,"r":0.121},{"p":"j","x":150,"a":0.52,"ae":0.011,"c":0.499,"ce":0.015,"r":0.113},{"p":"j","x":155,"a":0.521,"ae":0.011,"c":0.5,"ce":0.015,"r":0.108},{"p":"j","x":160,"a":0.522,"ae":0.011,"c":0.5,"ce":0.015,"r":0.115},{"p":"j","x":165,"a":0.521,"ae":0.011,"c":0.5,"ce":0.015,"r":0.134},{"p":"j","x":170,"a":0.522,"ae":0.011,"c":0.501,"ce":0.014,"r":0.102},{"p":"j","x":175,"a":0.522,"ae":0.011,"c":0.501,"ce":0.014,"r":0.155},{"p":"j","x":180,"a":0.523,"ae":0.011,"c":0.501,"ce":0.014,"r":0.113},{"p":"j","x":185,"a":0.522,"ae":0.011,"c":0.502,"ce":0.014,"r":0.113},{"p":"j","x":190,"a":0.523,"ae":0.011,"c":0.502,"ce":0.014,"r":0.108},{"p":"j","x":195,"a":0.524,"ae":0.011,"c":0.502,"ce":0.014,"r":0.134},{"p":"j","x":200,"a":0.523,"ae":0.01,"c":0.503,"ce":0.013,"r":0.147},{"p":"j","x":205,"a":0.524,"ae":0.01,"c":0.503,"ce":0.013,"r":0.081},{"p":"j","x":210,"a":0.524,"ae":0.01,"c":0.503,"ce":0.013,"r":0.108},{"p":"j","x":215,"a":0.525,"ae":0.01,"c":0.503,"ce":0.013,"r":0.108},{"p":"j","x":220,"a":0.524,"ae":0.01,"c":0.504,"ce":0.013,"r":0.134},{"p":"j","x":225,"a":0.525,"ae":0.01,"c":0.504,"ce":0.013,"r":0.147},{"p":"j","x":230,"a":0.526,"ae":0.01,"c":0.504,"ce":0.013,"r":0.068},{"p":"j","x":235,"a":0.525,"ae":0.01,"c":0.504,"ce":0.013,"r":0.102},{"p":"j","x":240,"a":0.526,"ae":0.01,"c":0.505,"ce":0.012,"r":0.108},{"p":"j","x":245,"a":0.526,"ae":0.01,"c":0.505,"ce":0.012,"r":0.134},{"p":"j","x":250,"a":0.527,"ae":0.01,"c":0.505,"ce":0.012,"r":0.108},{"p":"j","x":255,"a":0.526,"ae":0.01,"c":0.505,"ce":0.012,"r":0.094},{"p":"j","x":260,"a":0.527,"ae":0.01,"c":0.505,"ce":0.012,"r":0.081},{"p":"j","x":265,"a":0.527,"ae":0.01,"c":0.506,"ce":0.012,"r":0.068},{"p":"j","x":270,"a":0.526,"ae":0.01,"c":0.506,"ce":0.012,"r":0.05},{"p":"j","x":275,"a":0.527,"ae":0.01,"c":0.506,"ce":0.012,"r":0.05},{"p":"j","x":280,"a":0.526,"ae":0.01,"c":0.506,"ce":0.012,"r":0.029},{"p":"j","x":285,"a":0.525,"ae":0.01,"c":0.506,"ce":0.012,"r":0.018},{"p":"j","x":290,"a":0.525,"ae":0.01,"c":0.506,"ce":0.012,"r":0.008},
{"p":"k","x":50,"a":0.49,"ae":0.022,"c":0.43,"ce":0.04,"r":0.181},{"p":"k","x":55,"a":0.492,"ae":0.022,"c":0.434,"ce":0.04,"r":0.165},{"p":"k","x":60,"a":0.494,"ae":0.022,"c":0.438,"ce":0.04,"r":0.213},{"p":"k","x":65,"a":0.495,"ae":0.022,"c":0.441,"ce":0.04,"r":0.173},{"p":"k","x":70,"a":0.497,"ae":0.022,"c":0.444,"ce":0.04,"r":0.16},{"p":"k","x":75,"a":0.498,"ae":0.022,"c":0.447,"ce":0.04,"r":0.16},{"p":"k","x":80,"a":0.5,"ae":0.022,"c":0.45,"ce":0.04,"r":0.165},{"p":"k","x":85,"a":0.501,"ae":0.022,"c":0.453,"ce":0.04,"r":0.134},{"p":"k","x":90,"a":0.503,"ae":0.022,"c":0.456,"ce":0.04,"r":0.181},{"p":"k","x":95,"a":0.504,"ae":0.022,"c":0.458,"ce":0.04,"r":0.147},{"p":"k","x":100,"a":0.505,"ae":0.02,"c":0.461,"ce":0.035,"r":0.147},{"p":"k","x":105,"a":0.506,"ae":0.02,"c":0.463,"ce":0.035,"r":0.087},{"p":"k","x":110,"a":0.507,"ae":0.02,"c":0.466,"ce":0.035,"r":0.094},{"p":"k","x":115,"a":0.508,"ae":0.02,"c":0.468,"ce":0.035,"r":0.094},{"p":"k","x":120,"a":0.509,"ae":0.02,"c":0.47,"ce":0.035,"r":0.068},{"p":"k","x":125,"a":0.51,"ae":0.02,"c":0.472,"ce":0.035,"r":0.068},{"p":"k","x":130,"a":0.511,"ae":0.02,"c":0.474,"ce":0.035,"r":0.055},{"p":"k","x":135,"a":0.512,"ae":0.02,"c":0.476,"ce":0.035,"r":0.05},{"p":"k","x":140,"a":0.513,"ae":0.02,"c":0.478,"ce":0.035,"r":0.042},{"p":"k","x":145,"a":0.514,"ae":0.02,"c":0.48,"ce":0.035,"r":0.05},{"p":"k","x":150,"a":0.515,"ae":0.017,"c":0.482,"ce":0.03,"r":0.042},{"p":"k","x":155,"a":0.515,"ae":0.017,"c":0.484,"ce":0.03,"r":0.06},{"p":"k","x":160,"a":0.516,"ae":0.017,"c":0.487,"ce":0.03,"r":0.034},{"p":"k","x":165,"a":0.516,"ae":0.017,"c":0.489,"ce":0.03,"r":0.008},{"p":"k","x":170,"a":0.515,"ae":0.017,"c":0.491,"ce":0.03,"r":0.008},{"p":"k","x":175,"a":0.515,"ae":0.017,"c":0.493,"ce":0.03,"r":0.024},{"p":"k","x":180,"a":0.514,"ae":0.017,"c":0.496,"ce":0.03,"r":0.008},{"p":"k","x":185,"a":0.513,"ae":0.017,"c":0.498,"ce":0.03,"r":0.018},{"p":"k","x":190,"a":0.512,"ae":0.017,"c":0.5,"ce":0.03,"r":0.01},{"p":"k","x":195,"a":0.511,"ae":0.017,"c":0.502,"ce":0.03,"r":0.008},{"p":"k","x":200,"a":0.51,"ae":0.015,"c":0.504,"ce":0.025,"r":0.008},{"p":"k","x":205,"a":0.51,"ae":0.015,"c":0.506,"ce":0.025,"r":0.003},{"p":"k","x":210,"a":0.509,"ae":0.015,"c":0.508,"ce":0.025,"r":0.003},{"p":"k","x":215,"a":0.508,"ae":0.015,"c":0.51,"ce":0.025,"r":0.005},{"p":"k","x":220,"a":0.508,"ae":0.015,"c":0.512,"ce":0.025,"r":0.003},{"p":"k","x":225,"a":0.507,"ae":0.015,"c":0.514,"ce":0.025,"r":0.003},{"p":"k","x":230,"a":0.507,"ae":0.015,"c":0.516,"ce":0.025,"r":0.003},{"p":"k","x":235,"a":0.506,"ae":0.015,"c":0.518,"ce":0.025,"r":0.003},{"p":"k","x":240,"a":0.506,"ae":0.015,"c":0.52,"ce":0.025,"r":0.003},{"p":"k","x":245,"a":0.505,"ae":0.015,"c":0.521,"ce":0.025,"r":0.003},{"p":"k","x":250,"a":0.505,"ae":0.013,"c":0.523,"ce":0.02,"r":0.003},{"p":"k","x":255,"a":0.505,"ae":0.013,"c":0.524,"ce":0.02,"r":0.003},{"p":"k","x":260,"a":0.504,"ae":0.013,"c":0.526,"ce":0.02,"r":0.003},{"p":"k","x":265,"a":0.504,"ae":0.013,"c":0.527,"ce":0.02,"r":0.003},{"p":"k","x":270,"a":0.504,"ae":0.013,"c":0.529,"ce":0.02,"r":0.003},{"p":"k","x":275,"a":0.503,"ae":0.013,"c":0.53,"ce":0.02,"r":0.003},{"p":"k","x":280,"a":0.503,"ae":0.013,"c":0.532,"ce":0.02,"r":0.003},{"p":"k","x":285,"a":0.503,"ae":0.013,"c":0.533,"ce":0.02,"r":0.003},{"p":"k","x":290,"a":0.503,"ae":0.013,"c":0.535,"ce":0.02,"r":0.003},
{"p":"l","x":50,"a":0.43,"ae":0.015,"c":0.37,"ce":0.018,"r":0.37},{"p":"l","x":55,"a":0.433,"ae":0.015,"c":0.373,"ce":0.018,"r":0.4},{"p":"l","x":60,"a":0.436,"ae":0.015,"c":0.376,"ce":0.018,"r":0.435},{"p":"l","x":65,"a":0.438,"ae":0.015,"c":0.379,"ce":0.018,"r":0.435},{"p":"l","x":70,"a":0.441,"ae":0.015,"c":0.382,"ce":0.018,"r":0.46},{"p":"l","x":75,"a":0.443,"ae":0.015,"c":0.385,"ce":0.018,"r":0.435},{"p":"l","x":80,"a":0.446,"ae":0.015,"c":0.388,"ce":0.018,"r":0.526},{"p":"l","x":85,"a":0.448,"ae":0.015,"c":0.391,"ce":0.018,"r":0.505},{"p":"l","x":90,"a":0.45,"ae":0.015,"c":0.394,"ce":0.018,"r":0.5},{"p":"l","x":95,"a":0.453,"ae":0.015,"c":0.397,"ce":0.018,"r":0.565},{"p":"l","x":100,"a":0.455,"ae":0.015,"c":0.4,"ce":0.018,"r":0.617},{"p":"l","x":105,"a":0.458,"ae":0.015,"c":0.402,"ce":0.018,"r":0.59},{"p":"l","x":110,"a":0.46,"ae":0.015,"c":0.405,"ce":0.018,"r":0.617},{"p":"l","x":115,"a":0.462,"ae":0.015,"c":0.407,"ce":0.018,"r":0.583},{"p":"l","x":120,"a":0.465,"ae":0.015,"c":0.41,"ce":0.018,"r":0.605},{"p":"l","x":125,"a":0.467,"ae":0.015,"c":0.412,"ce":0.018,"r":0.565},{"p":"l","x":130,"a":0.469,"ae":0.015,"c":0.415,"ce":0.018,"r":0.63},{"p":"l","x":135,"a":0.471,"ae":0.015,"c":0.417,"ce":0.018,"r":0.58},{"p":"l","x":140,"a":0.473,"ae":0.015,"c":0.42,"ce":0.018,"r":0.657},{"p":"l","x":145,"a":0.475,"ae":0.015,"c":0.422,"ce":0.018,"r":0.63},{"p":"l","x":150,"a":0.478,"ae":0.015,"c":0.425,"ce":0.018,"r":0.662},{"p":"l","x":155,"a":0.479,"ae":0.015,"c":0.427,"ce":0.018,"r":0.605},{"p":"l","x":160,"a":0.481,"ae":0.015,"c":0.429,"ce":0.018,"r":0.688},{"p":"l","x":165,"a":0.482,"ae":0.015,"c":0.431,"ce":0.018,"r":0.605},{"p":"l","x":170,"a":0.484,"ae":0.015,"c":0.433,"ce":0.018,"r":0.63},{"p":"l","x":175,"a":0.485,"ae":0.015,"c":0.435,"ce":0.018,"r":0.6},{"p":"l","x":180,"a":0.487,"ae":0.015,"c":0.437,"ce":0.018,"r":0.61},{"p":"l","x":185,"a":0.488,"ae":0.015,"c":0.439,"ce":0.018,"r":0.58},{"p":"l","x":190,"a":0.489,"ae":0.015,"c":0.441,"ce":0.018,"r":0.54},{"p":"l","x":195,"a":0.491,"ae":0.015,"c":0.443,"ce":0.018,"r":0.644},{"p":"l","x":200,"a":0.492,"ae":0.015,"c":0.445,"ce":0.018,"r":0.657},{"p":"l","x":205,"a":0.493,"ae":0.015,"c":0.446,"ce":0.018,"r":0.63},{"p":"l","x":210,"a":0.494,"ae":0.015,"c":0.448,"ce":0.018,"r":0.617},{"p":"l","x":215,"a":0.495,"ae":0.015,"c":0.449,"ce":0.018,"r":0.54},{"p":"l","x":220,"a":0.496,"ae":0.015,"c":0.451,"ce":0.018,"r":0.605},{"p":"l","x":225,"a":0.497,"ae":0.015,"c":0.452,"ce":0.018,"r":0.61},{"p":"l","x":230,"a":0.498,"ae":0.015,"c":0.454,"ce":0.018,"r":0.59},{"p":"l","x":235,"a":0.499,"ae":0.015,"c":0.455,"ce":0.018,"r":0.583},{"p":"l","x":240,"a":0.5,"ae":0.015,"c":0.456,"ce":0.018,"r":0.54},{"p":"l","x":245,"a":0.5,"ae":0.015,"c":0.457,"ce":0.018,"r":0.53},{"p":"l","x":250,"a":0.501,"ae":0.015,"c":0.458,"ce":0.018,"r":0.5},{"p":"l","x":255,"a":0.502,"ae":0.015,"c":0.459,"ce":0.018,"r":0.474},{"p":"l","x":260,"a":0.502,"ae":0.015,"c":0.46,"ce":0.018,"r":0.526},{"p":"l","x":265,"a":0.503,"ae":0.015,"c":0.461,"ce":0.018,"r":0.487},{"p":"l","x":270,"a":0.503,"ae":0.015,"c":0.462,"ce":0.018,"r":0.448},{"p":"l","x":275,"a":0.504,"ae":0.015,"c":0.463,"ce":0.018,"r":0.5},{"p":"l","x":280,"a":0.504,"ae":0.015,"c":0.464,"ce":0.018,"r":0.487},{"p":"l","x":285,"a":0.505,"ae":0.015,"c":0.465,"ce":0.018,"r":0.474},{"p":"l","x":290,"a":0.505,"ae":0.015,"c":0.466,"ce":0.018,"r":0.37},
{"p":"m","x":50,"a":0.59,"ae":0.013,"c":0.562,"ce":0.025,"r":0.104},{"p":"m","x":55,"a":0.591,"ae":0.013,"c":0.563,"ce":0.025,"r":0.104},{"p":"m","x":60,"a":0.59,"ae":0.013,"c":0.564,"ce":0.024,"r":0.117},{"p":"m","x":65,"a":0.589,"ae":0.013,"c":0.565,"ce":0.024,"r":0.138},{"p":"m","x":70,"a":0.59,"ae":0.013,"c":0.565,"ce":0.023,"r":0.169},{"p":"m","x":75,"a":0.589,"ae":0.013,"c":0.566,"ce":0.023,"r":0.078},{"p":"m","x":80,"a":0.588,"ae":0.013,"c":0.566,"ce":0.022,"r":0.094},{"p":"m","x":85,"a":0.589,"ae":0.013,"c":0.567,"ce":0.022,"r":0.12},{"p":"m","x":90,"a":0.588,"ae":0.013,"c":0.567,"ce":0.021,"r":0.104},{"p":"m","x":95,"a":0.587,"ae":0.013,"c":0.567,"ce":0.021,"r":0.099},{"p":"m","x":100,"a":0.588,"ae":0.013,"c":0.568,"ce":0.02,"r":0.086},{"p":"m","x":105,"a":0.587,"ae":0.013,"c":0.568,"ce":0.02,"r":0.073},{"p":"m","x":110,"a":0.586,"ae":0.013,"c":0.568,"ce":0.02,"r":0.151},{"p":"m","x":115,"a":0.587,"ae":0.013,"c":0.568,"ce":0.019,"r":0.099},{"p":"m","x":120,"a":0.586,"ae":0.013,"c":0.568,"ce":0.019,"r":0.112},{"p":"m","x":125,"a":0.585,"ae":0.013,"c":0.567,"ce":0.019,"r":0.146},{"p":"m","x":130,"a":0.584,"ae":0.013,"c":0.567,"ce":0.018,"r":0.146},{"p":"m","x":135,"a":0.585,"ae":0.013,"c":0.567,"ce":0.018,"r":0.104},{"p":"m","x":140,"a":0.584,"ae":0.013,"c":0.566,"ce":0.018,"r":0.078},{"p":"m","x":145,"a":0.583,"ae":0.013,"c":0.566,"ce":0.017,"r":0.06},{"p":"m","x":150,"a":0.582,"ae":0.013,"c":0.566,"ce":0.017,"r":0.086},{"p":"m","x":155,"a":0.583,"ae":0.013,"c":0.565,"ce":0.017,"r":0.117},{"p":"m","x":160,"a":0.582,"ae":0.013,"c":0.565,"ce":0.016,"r":0.099},{"p":"m","x":165,"a":0.581,"ae":0.013,"c":0.565,"ce":0.016,"r":0.099},{"p":"m","x":170,"a":0.58,"ae":0.013,"c":0.564,"ce":0.016,"r":0.078},{"p":"m","x":175,"a":0.58,"ae":0.013,"c":0.564,"ce":0.016,"r":0.099},{"p":"m","x":180,"a":0.579,"ae":0.013,"c":0.563,"ce":0.015,"r":0.112},{"p":"m","x":185,"a":0.578,"ae":0.013,"c":0.563,"ce":0.015,"r":0.104},{"p":"m","x":190,"a":0.578,"ae":0.013,"c":0.563,"ce":0.015,"r":0.117},{"p":"m","x":195,"a":0.577,"ae":0.013,"c":0.562,"ce":0.015,"r":0.086},{"p":"m","x":200,"a":0.576,"ae":0.013,"c":0.562,"ce":0.015,"r":0.099},{"p":"m","x":205,"a":0.576,"ae":0.013,"c":0.562,"ce":0.014,"r":0.078},{"p":"m","x":210,"a":0.575,"ae":0.013,"c":0.561,"ce":0.014,"r":0.06},{"p":"m","x":215,"a":0.574,"ae":0.013,"c":0.561,"ce":0.014,"r":0.042},{"p":"m","x":220,"a":0.574,"ae":0.013,"c":0.561,"ce":0.014,"r":0.06},{"p":"m","x":225,"a":0.573,"ae":0.013,"c":0.56,"ce":0.014,"r":0.052},{"p":"m","x":230,"a":0.573,"ae":0.013,"c":0.56,"ce":0.014,"r":0.068},{"p":"m","x":235,"a":0.572,"ae":0.013,"c":0.56,"ce":0.014,"r":0.042},{"p":"m","x":240,"a":0.572,"ae":0.013,"c":0.56,"ce":0.013,"r":0.021},{"p":"m","x":245,"a":0.571,"ae":0.013,"c":0.559,"ce":0.013,"r":0.042},{"p":"m","x":250,"a":0.571,"ae":0.013,"c":0.559,"ce":0.013,"r":0.016},{"p":"m","x":255,"a":0.57,"ae":0.013,"c":0.559,"ce":0.013,"r":0.06},{"p":"m","x":260,"a":0.57,"ae":0.013,"c":0.559,"ce":0.013,"r":0.042},{"p":"m","x":265,"a":0.569,"ae":0.013,"c":0.558,"ce":0.013,"r":0.052},{"p":"m","x":270,"a":0.569,"ae":0.013,"c":0.558,"ce":0.013,"r":0.021},{"p":"m","x":275,"a":0.568,"ae":0.013,"c":0.558,"ce":0.013,"r":0.042},{"p":"m","x":280,"a":0.568,"ae":0.013,"c":0.558,"ce":0.013,"r":0.026},{"p":"m","x":285,"a":0.567,"ae":0.013,"c":0.558,"ce":0.013,"r":0.021},{"p":"m","x":290,"a":0.567,"ae":0.013,"c":0.558,"ce":0.013,"r":0.0},
{"p":"n","x":50,"a":0.612,"ae":0.01,"c":0.59,"ce":0.022,"r":0.19},{"p":"n","x":55,"a":0.613,"ae":0.01,"c":0.593,"ce":0.022,"r":0.177},{"p":"n","x":60,"a":0.614,"ae":0.01,"c":0.596,"ce":0.021,"r":0.151},{"p":"n","x":65,"a":0.614,"ae":0.01,"c":0.598,"ce":0.021,"r":0.164},{"p":"n","x":70,"a":0.615,"ae":0.01,"c":0.6,"ce":0.02,"r":0.151},{"p":"n","x":75,"a":0.616,"ae":0.01,"c":0.602,"ce":0.02,"r":0.172},{"p":"n","x":80,"a":0.616,"ae":0.01,"c":0.604,"ce":0.019,"r":0.167},{"p":"n","x":85,"a":0.617,"ae":0.01,"c":0.606,"ce":0.019,"r":0.138},{"p":"n","x":90,"a":0.617,"ae":0.01,"c":0.607,"ce":0.018,"r":0.112},{"p":"n","x":95,"a":0.618,"ae":0.01,"c":0.609,"ce":0.018,"r":0.094},{"p":"n","x":100,"a":0.618,"ae":0.01,"c":0.61,"ce":0.017,"r":0.125},{"p":"n","x":105,"a":0.619,"ae":0.01,"c":0.611,"ce":0.017,"r":0.099},{"p":"n","x":110,"a":0.619,"ae":0.01,"c":0.613,"ce":0.016,"r":0.086},{"p":"n","x":115,"a":0.62,"ae":0.01,"c":0.614,"ce":0.016,"r":0.094},{"p":"n","x":120,"a":0.62,"ae":0.01,"c":0.615,"ce":0.016,"r":0.081},{"p":"n","x":125,"a":0.621,"ae":0.01,"c":0.616,"ce":0.015,"r":0.073},{"p":"n","x":130,"a":0.621,"ae":0.01,"c":0.617,"ce":0.015,"r":0.086},{"p":"n","x":135,"a":0.621,"ae":0.01,"c":0.618,"ce":0.015,"r":0.06},{"p":"n","x":140,"a":0.622,"ae":0.01,"c":0.619,"ce":0.015,"r":0.073},{"p":"n","x":145,"a":0.622,"ae":0.01,"c":0.62,"ce":0.014,"r":0.086},{"p":"n","x":150,"a":0.622,"ae":0.01,"c":0.62,"ce":0.014,"r":0.047},{"p":"n","x":155,"a":0.623,"ae":0.01,"c":0.621,"ce":0.014,"r":0.086},{"p":"n","x":160,"a":0.623,"ae":0.01,"c":0.622,"ce":0.014,"r":0.073},{"p":"n","x":165,"a":0.623,"ae":0.01,"c":0.623,"ce":0.014,"r":0.065},{"p":"n","x":170,"a":0.623,"ae":0.01,"c":0.623,"ce":0.013,"r":0.052},{"p":"n","x":175,"a":0.624,"ae":0.01,"c":0.624,"ce":0.013,"r":0.042},{"p":"n","x":180,"a":0.624,"ae":0.01,"c":0.625,"ce":0.013,"r":0.073},{"p":"n","x":185,"a":0.624,"ae":0.01,"c":0.625,"ce":0.013,"r":0.099},{"p":"n","x":190,"a":0.624,"ae":0.01,"c":0.626,"ce":0.013,"r":0.06},{"p":"n","x":195,"a":0.624,"ae":0.01,"c":0.626,"ce":0.013,"r":0.052},{"p":"n","x":200,"a":0.624,"ae":0.01,"c":0.627,"ce":0.013,"r":0.086},{"p":"n","x":205,"a":0.624,"ae":0.01,"c":0.628,"ce":0.013,"r":0.073},{"p":"n","x":210,"a":0.624,"ae":0.01,"c":0.628,"ce":0.012,"r":0.086},{"p":"n","x":215,"a":0.623,"ae":0.01,"c":0.629,"ce":0.012,"r":0.086},{"p":"n","x":220,"a":0.623,"ae":0.01,"c":0.629,"ce":0.012,"r":0.073},{"p":"n","x":225,"a":0.623,"ae":0.01,"c":0.63,"ce":0.012,"r":0.078},{"p":"n","x":230,"a":0.623,"ae":0.01,"c":0.63,"ce":0.012,"r":0.073},{"p":"n","x":235,"a":0.622,"ae":0.01,"c":0.631,"ce":0.012,"r":0.094},{"p":"n","x":240,"a":0.622,"ae":0.01,"c":0.631,"ce":0.012,"r":0.065},{"p":"n","x":245,"a":0.622,"ae":0.01,"c":0.632,"ce":0.012,"r":0.073},{"p":"n","x":250,"a":0.622,"ae":0.01,"c":0.632,"ce":0.012,"r":0.06},{"p":"n","x":255,"a":0.621,"ae":0.01,"c":0.632,"ce":0.012,"r":0.112},{"p":"n","x":260,"a":0.621,"ae":0.01,"c":0.633,"ce":0.012,"r":0.06},{"p":"n","x":265,"a":0.621,"ae":0.01,"c":0.633,"ce":0.012,"r":0.086},{"p":"n","x":270,"a":0.62,"ae":0.01,"c":0.634,"ce":0.012,"r":0.081},{"p":"n","x":275,"a":0.62,"ae":0.01,"c":0.634,"ce":0.012,"r":0.099},{"p":"n","x":280,"a":0.62,"ae":0.01,"c":0.634,"ce":0.012,"r":0.086},{"p":"n","x":285,"a":0.619,"ae":0.01,"c":0.635,"ce":0.012,"r":0.06},{"p":"n","x":290,"a":0.619,"ae":0.01,"c":0.635,"ce":0.012,"r":0.021},
{"p":"o","x":50,"a":0.57,"ae":0.018,"c":0.52,"ce":0.025,"r":0.216},{"p":"o","x":55,"a":0.573,"ae":0.018,"c":0.524,"ce":0.025,"r":0.177},{"p":"o","x":60,"a":0.575,"ae":0.018,"c":0.528,"ce":0.024,"r":0.19},{"p":"o","x":65,"a":0.577,"ae":0.018,"c":0.531,"ce":0.024,"r":0.156},{"p":"o","x":70,"a":0.579,"ae":0.017,"c":0.534,"ce":0.023,"r":0.172},{"p":"o","x":75,"a":0.581,"ae":0.017,"c":0.537,"ce":0.023,"r":0.177},{"p":"o","x":80,"a":0.582,"ae":0.017,"c":0.54,"ce":0.022,"r":0.182},{"p":"o","x":85,"a":0.584,"ae":0.017,"c":0.542,"ce":0.022,"r":0.19},{"p":"o","x":90,"a":0.585,"ae":0.016,"c":0.544,"ce":0.021,"r":0.156},{"p":"o","x":95,"a":0.586,"ae":0.016,"c":0.546,"ce":0.021,"r":0.177},{"p":"o","x":100,"a":0.587,"ae":0.016,"c":0.548,"ce":0.02,"r":0.151},{"p":"o","x":105,"a":0.588,"ae":0.016,"c":0.55,"ce":0.02,"r":0.13},{"p":"o","x":110,"a":0.589,"ae":0.015,"c":0.552,"ce":0.019,"r":0.203},{"p":"o","x":115,"a":0.59,"ae":0.015,"c":0.554,"ce":0.019,"r":0.125},{"p":"o","x":120,"a":0.591,"ae":0.015,"c":0.555,"ce":0.018,"r":0.138},{"p":"o","x":125,"a":0.592,"ae":0.015,"c":0.557,"ce":0.018,"r":0.112},{"p":"o","x":130,"a":0.592,"ae":0.015,"c":0.558,"ce":0.018,"r":0.104},{"p":"o","x":135,"a":0.593,"ae":0.014,"c":0.56,"ce":0.017,"r":0.125},{"p":"o","x":140,"a":0.593,"ae":0.014,"c":0.561,"ce":0.017,"r":0.091},{"p":"o","x":145,"a":0.594,"ae":0.014,"c":0.563,"ce":0.017,"r":0.099},{"p":"o","x":150,"a":0.594,"ae":0.014,"c":0.564,"ce":0.016,"r":0.078},{"p":"o","x":155,"a":0.595,"ae":0.014,"c":0.565,"ce":0.016,"r":0.073},{"p":"o","x":160,"a":0.595,"ae":0.014,"c":0.566,"ce":0.016,"r":0.086},{"p":"o","x":165,"a":0.595,"ae":0.013,"c":0.567,"ce":0.015,"r":0.068},{"p":"o","x":170,"a":0.596,"ae":0.013,"c":0.568,"ce":0.015,"r":0.068},{"p":"o","x":175,"a":0.596,"ae":0.013,"c":0.569,"ce":0.015,"r":0.073},{"p":"o","x":180,"a":0.596,"ae":0.013,"c":0.57,"ce":0.015,"r":0.06},{"p":"o","x":185,"a":0.596,"ae":0.013,"c":0.571,"ce":0.014,"r":0.042},{"p":"o","x":190,"a":0.596,"ae":0.013,"c":0.572,"ce":0.014,"r":0.026},{"p":"o","x":195,"a":0.596,"ae":0.013,"c":0.573,"ce":0.014,"r":0.042},{"p":"o","x":200,"a":0.596,"ae":0.013,"c":0.574,"ce":0.014,"r":0.052},{"p":"o","x":205,"a":0.596,"ae":0.013,"c":0.575,"ce":0.014,"r":0.026},{"p":"o","x":210,"a":0.596,"ae":0.012,"c":0.576,"ce":0.013,"r":0.016},{"p":"o","x":215,"a":0.596,"ae":0.012,"c":0.577,"ce":0.013,"r":0.021},{"p":"o","x":220,"a":0.595,"ae":0.012,"c":0.577,"ce":0.013,"r":0.016},{"p":"o","x":225,"a":0.595,"ae":0.012,"c":0.578,"ce":0.013,"r":0.013},{"p":"o","x":230,"a":0.595,"ae":0.012,"c":0.579,"ce":0.013,"r":0.01},{"p":"o","x":235,"a":0.595,"ae":0.012,"c":0.579,"ce":0.013,"r":0.008},{"p":"o","x":240,"a":0.595,"ae":0.012,"c":0.58,"ce":0.012,"r":0.008},{"p":"o","x":245,"a":0.595,"ae":0.012,"c":0.581,"ce":0.012,"r":0.008},{"p":"o","x":250,"a":0.595,"ae":0.012,"c":0.581,"ce":0.012,"r":0.005},{"p":"o","x":255,"a":0.594,"ae":0.012,"c":0.582,"ce":0.012,"r":0.005},{"p":"o","x":260,"a":0.594,"ae":0.012,"c":0.582,"ce":0.012,"r":0.005},{"p":"o","x":265,"a":0.594,"ae":0.012,"c":0.583,"ce":0.012,"r":0.005},{"p":"o","x":270,"a":0.594,"ae":0.012,"c":0.583,"ce":0.012,"r":0.005},{"p":"o","x":275,"a":0.594,"ae":0.012,"c":0.584,"ce":0.012,"r":0.005},{"p":"o","x":280,"a":0.594,"ae":0.012,"c":0.584,"ce":0.012,"r":0.005},{"p":"o","x":285,"a":0.593,"ae":0.012,"c":0.585,"ce":0.012,"r":0.005},{"p":"o","x":290,"a":0.593,"ae":0.012,"c":0.585,"ce":0.012,"r":0.005},
{"p":"p","x":50,"a":0.51,"ae":0.015,"c":0.455,"ce":0.024,"r":0.283},{"p":"p","x":55,"a":0.515,"ae":0.015,"c":0.46,"ce":0.024,"r":0.27},{"p":"p","x":60,"a":0.519,"ae":0.015,"c":0.465,"ce":0.023,"r":0.264},{"p":"p","x":65,"a":0.523,"ae":0.015,"c":0.469,"ce":0.023,"r":0.256},{"p":"p","x":70,"a":0.527,"ae":0.015,"c":0.473,"ce":0.022,"r":0.302},{"p":"p","x":75,"a":0.531,"ae":0.014,"c":0.477,"ce":0.022,"r":0.291},{"p":"p","x":80,"a":0.534,"ae":0.014,"c":0.48,"ce":0.021,"r":0.323},{"p":"p","x":85,"a":0.537,"ae":0.014,"c":0.483,"ce":0.021,"r":0.35},{"p":"p","x":90,"a":0.54,"ae":0.014,"c":0.486,"ce":0.02,"r":0.337},{"p":"p","x":95,"a":0.543,"ae":0.014,"c":0.489,"ce":0.02,"r":0.372},{"p":"p","x":100,"a":0.546,"ae":0.013,"c":0.492,"ce":0.019,"r":0.39},{"p":"p","x":105,"a":0.548,"ae":0.013,"c":0.495,"ce":0.019,"r":0.417},{"p":"p","x":110,"a":0.551,"ae":0.013,"c":0.497,"ce":0.018,"r":0.425},{"p":"p","x":115,"a":0.553,"ae":0.013,"c":0.5,"ce":0.018,"r":0.457},{"p":"p","x":120,"a":0.555,"ae":0.013,"c":0.502,"ce":0.017,"r":0.479},{"p":"p","x":125,"a":0.557,"ae":0.012,"c":0.504,"ce":0.017,"r":0.484},{"p":"p","x":130,"a":0.559,"ae":0.012,"c":0.506,"ce":0.016,"r":0.457},{"p":"p","x":135,"a":0.561,"ae":0.012,"c":0.508,"ce":0.016,"r":0.538},{"p":"p","x":140,"a":0.563,"ae":0.012,"c":0.51,"ce":0.016,"r":0.498},{"p":"p","x":145,"a":0.565,"ae":0.012,"c":0.512,"ce":0.015,"r":0.524},{"p":"p","x":150,"a":0.567,"ae":0.012,"c":0.514,"ce":0.015,"r":0.47},{"p":"p","x":155,"a":0.568,"ae":0.012,"c":0.516,"ce":0.015,"r":0.538},{"p":"p","x":160,"a":0.57,"ae":0.011,"c":0.518,"ce":0.015,"r":0.551},{"p":"p","x":165,"a":0.572,"ae":0.011,"c":0.519,"ce":0.014,"r":0.524},{"p":"p","x":170,"a":0.573,"ae":0.011,"c":0.521,"ce":0.014,"r":0.543},{"p":"p","x":175,"a":0.575,"ae":0.011,"c":0.522,"ce":0.014,"r":0.524},{"p":"p","x":180,"a":0.576,"ae":0.011,"c":0.524,"ce":0.014,"r":0.565},{"p":"p","x":185,"a":0.577,"ae":0.011,"c":0.525,"ce":0.014,"r":0.532},{"p":"p","x":190,"a":0.579,"ae":0.011,"c":0.527,"ce":0.013,"r":0.551},{"p":"p","x":195,"a":0.58,"ae":0.011,"c":0.528,"ce":0.013,"r":0.511},{"p":"p","x":200,"a":0.581,"ae":0.011,"c":0.529,"ce":0.013,"r":0.484},{"p":"p","x":205,"a":0.582,"ae":0.011,"c":0.531,"ce":0.013,"r":0.524},{"p":"p","x":210,"a":0.583,"ae":0.01,"c":0.532,"ce":0.013,"r":0.489},{"p":"p","x":215,"a":0.584,"ae":0.01,"c":0.533,"ce":0.013,"r":0.479},{"p":"p","x":220,"a":0.585,"ae":0.01,"c":0.534,"ce":0.013,"r":0.484},{"p":"p","x":225,"a":0.586,"ae":0.01,"c":0.535,"ce":0.012,"r":0.47},{"p":"p","x":230,"a":0.587,"ae":0.01,"c":0.537,"ce":0.012,"r":0.524},{"p":"p","x":235,"a":0.588,"ae":0.01,"c":0.538,"ce":0.012,"r":0.559},{"p":"p","x":240,"a":0.589,"ae":0.01,"c":0.539,"ce":0.012,"r":0.543},{"p":"p","x":245,"a":0.589,"ae":0.01,"c":0.54,"ce":0.012,"r":0.498},{"p":"p","x":250,"a":0.59,"ae":0.01,"c":0.541,"ce":0.012,"r":0.538},{"p":"p","x":255,"a":0.591,"ae":0.01,"c":0.542,"ce":0.012,"r":0.565},{"p":"p","x":260,"a":0.591,"ae":0.01,"c":0.543,"ce":0.012,"r":0.551},{"p":"p","x":265,"a":0.592,"ae":0.01,"c":0.544,"ce":0.012,"r":0.578},{"p":"p","x":270,"a":0.593,"ae":0.01,"c":0.545,"ce":0.012,"r":0.597},{"p":"p","x":275,"a":0.593,"ae":0.01,"c":0.546,"ce":0.012,"r":0.538},{"p":"p","x":280,"a":0.594,"ae":0.01,"c":0.547,"ce":0.012,"r":0.559},{"p":"p","x":285,"a":0.594,"ae":0.01,"c":0.548,"ce":0.012,"r":0.498},{"p":"p","x":290,"a":0.595,"ae":0.01,"c":0.549,"ce":0.012,"r":0.417}
]},
"vconcat":[
{"title":{"text":["100","subjects"],"orient":"left","angle":0,"align":"center","baseline":"middle","anchor":"middle","offset":-20,"fontSize":17,"lineHeight":22},"bounds":"flush","spacing":8,"resolve":{"scale":{"color":"independent"},"legend":{"color":"independent"}},"hconcat":[
{"width":153,"height":125,"title":{"text":"Desikan thickness","frame":"group","offset":2},"data":{"name":"d"},"transform":[{"filter":"datum.p==='a'"}],"layer":[
{"mark":{"type":"line","color":"#ee7d87","strokeWidth":1},"encoding":{"x":{"field":"x","type":"quantitative","title":null,"scale":{"domain":[0.04,0.36],"nice":false,"zero":false},"axis":{"values":[0.1,0.15,0.2,0.25,0.3,0.35],"tickCount":7,"labelOverlap":false,"labels":false,"title":null}},"y":{"field":"a","type":"quantitative","scale":{"domain":[0.2,0.8],"nice":false,"zero":false},"axis":{"orient":"left","grid":true,"values":[0.3,0.4,0.5,0.6,0.7,0.8],"format":".1f","labelOverlap":false,"labelSeparation":0,"title":"Clustering"}}}},
{"data":{"name":"v"},"mark":{"type":"rule","color":"#777777","strokeWidth":1.2},"encoding":{"x":{"field":"v","type":"quantitative","title":null,"scale":{"domain":[0.04,0.36],"nice":false,"zero":false}}}},
{"mark":{"type":"errorbar","ticks":{"size":3},"color":"#f5a9ae","thickness":0.8},"encoding":{"x":{"field":"x","type":"quantitative","title":null,"scale":{"domain":[0.04,0.36],"nice":false,"zero":false}},"y":{"field":"a","type":"quantitative","scale":{"domain":[0.2,0.8],"nice":false,"zero":false},"axis":null},"yError":{"field":"ae"}}},
{"mark":{"type":"errorbar","ticks":{"size":3},"color":"#aaaaf5","thickness":0.8},"encoding":{"x":{"field":"x","type":"quantitative","title":null,"scale":{"domain":[0.04,0.36],"nice":false,"zero":false}},"y":{"field":"c","type":"quantitative","scale":{"domain":[0.2,0.8],"nice":false,"zero":false},"axis":null},"yError":{"field":"ce"}}},
{"mark":{"type":"line","color":"#7d7dee","strokeWidth":1},"encoding":{"x":{"field":"x","type":"quantitative","title":null,"scale":{"domain":[0.04,0.36],"nice":false,"zero":false}},"y":{"field":"c","type":"quantitative","scale":{"domain":[0.2,0.8],"nice":false,"zero":false},"axis":null}}},
{"data":{"values":[{"t":"a)"}]},"mark":{"type":"text","align":"left","baseline":"middle","font":"Liberation Sans","fontSize":11,"color":"#000000"},"encoding":{"text":{"field":"t"},"x":{"datum":0.054,"type":"quantitative","title":null,"scale":{"domain":[0.04,0.36],"nice":false,"zero":false}},"y":{"datum":0.75,"type":"quantitative","scale":{"domain":[0.2,0.8],"nice":false,"zero":false},"axis":null}}},
{"mark":{"type":"line","color":"#77ac30","strokeWidth":1.4,"point":{"filled":true,"size":10,"color":"#77ac30"}},"encoding":{"x":{"field":"x","type":"quantitative","title":null,"scale":{"domain":[0.04,0.36],"nice":false,"zero":false}},"y":{"field":"r","type":"quantitative","scale":{"domain":[0,1],"nice":false,"zero":false},"axis":{"orient":"right","values":[0,0.2,0.4,0.6,0.8,1],"labels":false,"title":null,"grid":false,"domainColor":"#77ac30"}}}}],"resolve":{"scale":{"y":"independent"}}},
{"width":153,"height":125,"title":{"text":"Destrieux thickness","frame":"group","offset":2},"data":{"name":"d"},"transform":[{"filter":"datum.p==='b'"}],"layer":[
{"mark":{"type":"line","color":"#ee7d87","strokeWidth":1},"encoding":{"x":{"field":"x","type":"quantitative","title":null,"scale":{"domain":[0.04,0.36],"nice":false,"zero":false},"axis":{"values":[0.1,0.15,0.2,0.25,0.3,0.35],"tickCount":7,"labels":false,"title":null}},"y":{"field":"a","type":"quantitative","scale":{"domain":[0.2,0.8],"nice":false,"zero":false},"axis":{"orient":"left","grid":true,"values":[0.3,0.4,0.5,0.6,0.7,0.8],"labels":false,"title":null}}}},
{"data":{"name":"v"},"mark":{"type":"rule","color":"#777777","strokeWidth":1.2},"encoding":{"x":{"field":"v","type":"quantitative","title":null,"scale":{"domain":[0.04,0.36],"nice":false,"zero":false}}}},
{"mark":{"type":"errorbar","ticks":{"size":3},"color":"#f5a9ae","thickness":0.8},"encoding":{"x":{"field":"x","type":"quantitative","title":null,"scale":{"domain":[0.04,0.36],"nice":false,"zero":false}},"y":{"field":"a","type":"quantitative","scale":{"domain":[0.2,0.8],"nice":false,"zero":false},"axis":null},"yError":{"field":"ae"}}},
{"mark":{"type":"errorbar","ticks":{"size":3},"color":"#aaaaf5","thickness":0.8},"encoding":{"x":{"field":"x","type":"quantitative","title":null,"scale":{"domain":[0.04,0.36],"nice":false,"zero":false}},"y":{"field":"c","type":"quantitative","scale":{"domain":[0.2,0.8],"nice":false,"zero":false},"axis":null},"yError":{"field":"ce"}}},
{"mark":{"type":"line","color":"#7d7dee","strokeWidth":1},"encoding":{"x":{"field":"x","type":"quantitative","title":null,"scale":{"domain":[0.04,0.36],"nice":false,"zero":false}},"y":{"field":"c","type":"quantitative","scale":{"domain":[0.2,0.8],"nice":false,"zero":false},"axis":null}}},
{"data":{"values":[{"t":"b)"}]},"mark":{"type":"text","align":"left","baseline":"middle","font":"Liberation Sans","fontSize":11,"color":"#000000"},"encoding":{"text":{"field":"t"},"x":{"datum":0.054,"type":"quantitative","title":null,"scale":{"domain":[0.04,0.36],"nice":false,"zero":false}},"y":{"datum":0.75,"type":"quantitative","scale":{"domain":[0.2,0.8],"nice":false,"zero":false},"axis":null}}},
{"mark":{"type":"line","color":"#77ac30","strokeWidth":1.4,"point":{"filled":true,"size":10,"color":"#77ac30"}},"encoding":{"x":{"field":"x","type":"quantitative","title":null,"scale":{"domain":[0.04,0.36],"nice":false,"zero":false}},"y":{"field":"r","type":"quantitative","scale":{"domain":[0,1],"nice":false,"zero":false},"axis":{"orient":"right","values":[0,0.2,0.4,0.6,0.8,1],"labels":false,"title":null,"grid":false,"domainColor":"#77ac30"}}}}],"resolve":{"scale":{"y":"independent"}}},
{"width":153,"height":125,"title":{"text":"Desikan volume","frame":"group","offset":2},"data":{"name":"d"},"transform":[{"filter":"datum.p==='c'"}],"layer":[
{"mark":{"type":"line","color":"#ee7d87","strokeWidth":1},"encoding":{"x":{"field":"x","type":"quantitative","title":null,"scale":{"domain":[0.04,0.36],"nice":false,"zero":false},"axis":{"values":[0.1,0.15,0.2,0.25,0.3,0.35],"tickCount":7,"labels":false,"title":null}},"y":{"field":"a","type":"quantitative","scale":{"domain":[0.2,0.8],"nice":false,"zero":false},"axis":{"orient":"left","grid":true,"values":[0.3,0.4,0.5,0.6,0.7,0.8],"labels":false,"title":null}}}},
{"data":{"name":"v"},"mark":{"type":"rule","color":"#777777","strokeWidth":1.2},"encoding":{"x":{"field":"v","type":"quantitative","title":null,"scale":{"domain":[0.04,0.36],"nice":false,"zero":false}}}},
{"mark":{"type":"errorbar","ticks":{"size":3},"color":"#f5a9ae","thickness":0.8},"encoding":{"x":{"field":"x","type":"quantitative","title":null,"scale":{"domain":[0.04,0.36],"nice":false,"zero":false}},"y":{"field":"a","type":"quantitative","scale":{"domain":[0.2,0.8],"nice":false,"zero":false},"axis":null},"yError":{"field":"ae"}}},
{"mark":{"type":"errorbar","ticks":{"size":3},"color":"#aaaaf5","thickness":0.8},"encoding":{"x":{"field":"x","type":"quantitative","title":null,"scale":{"domain":[0.04,0.36],"nice":false,"zero":false}},"y":{"field":"c","type":"quantitative","scale":{"domain":[0.2,0.8],"nice":false,"zero":false},"axis":null},"yError":{"field":"ce"}}},
{"mark":{"type":"line","color":"#7d7dee","strokeWidth":1},"encoding":{"x":{"field":"x","type":"quantitative","title":null,"scale":{"domain":[0.04,0.36],"nice":false,"zero":false}},"y":{"field":"c","type":"quantitative","scale":{"domain":[0.2,0.8],"nice":false,"zero":false},"axis":null}}},
{"data":{"values":[{"t":"c)"}]},"mark":{"type":"text","align":"left","baseline":"middle","font":"Liberation Sans","fontSize":11,"color":"#000000"},"encoding":{"text":{"field":"t"},"x":{"datum":0.054,"type":"quantitative","title":null,"scale":{"domain":[0.04,0.36],"nice":false,"zero":false}},"y":{"datum":0.75,"type":"quantitative","scale":{"domain":[0.2,0.8],"nice":false,"zero":false},"axis":null}}},
{"mark":{"type":"line","color":"#77ac30","strokeWidth":1.4,"point":{"filled":true,"size":10,"color":"#77ac30"}},"encoding":{"x":{"field":"x","type":"quantitative","title":null,"scale":{"domain":[0.04,0.36],"nice":false,"zero":false}},"y":{"field":"r","type":"quantitative","scale":{"domain":[0,1],"nice":false,"zero":false},"axis":{"orient":"right","values":[0,0.2,0.4,0.6,0.8,1],"labels":false,"title":null,"grid":false,"domainColor":"#77ac30"}}}}],"resolve":{"scale":{"y":"independent"}}},
{"width":153,"height":125,"title":{"text":"Destrieux volume","frame":"group","offset":2},"data":{"name":"d"},"transform":[{"filter":"datum.p==='d'"}],"layer":[
{"mark":{"type":"line","strokeWidth":1},"encoding":{"x":{"field":"x","type":"quantitative","title":null,"scale":{"domain":[0.04,0.36],"nice":false,"zero":false},"axis":{"values":[0.1,0.15,0.2,0.25,0.3,0.35],"tickCount":7,"labels":false,"title":null}},"y":{"field":"a","type":"quantitative","scale":{"domain":[0.2,0.8],"nice":false,"zero":false},"axis":{"orient":"left","grid":true,"values":[0.3,0.4,0.5,0.6,0.7,0.8],"labels":false,"title":null}},"color":{"datum":"AD","type":"nominal","scale":{"domain":["AD","CTR","pₛ-ratio"],"range":["#ee7d87","#7d7dee","#77ac30"]},"legend":{"orient":"top-right","title":null,"offset":2,"fillColor":"#ffffff","strokeColor":"#9a9a9a","padding":3,"labelFont":"Liberation Serif","labelFontSize":10.5,"labelColor":"#222222","symbolType":"stroke","symbolSize":120,"symbolStrokeWidth":1.2,"rowPadding":0}}}},
{"data":{"name":"v"},"mark":{"type":"rule","color":"#777777","strokeWidth":1.2},"encoding":{"x":{"field":"v","type":"quantitative","title":null,"scale":{"domain":[0.04,0.36],"nice":false,"zero":false}}}},
{"mark":{"type":"errorbar","ticks":{"size":3},"color":"#f5a9ae","thickness":0.8},"encoding":{"x":{"field":"x","type":"quantitative","title":null,"scale":{"domain":[0.04,0.36],"nice":false,"zero":false}},"y":{"field":"a","type":"quantitative","scale":{"domain":[0.2,0.8],"nice":false,"zero":false},"axis":null},"yError":{"field":"ae"}}},
{"mark":{"type":"errorbar","ticks":{"size":3},"color":"#aaaaf5","thickness":0.8},"encoding":{"x":{"field":"x","type":"quantitative","title":null,"scale":{"domain":[0.04,0.36],"nice":false,"zero":false}},"y":{"field":"c","type":"quantitative","scale":{"domain":[0.2,0.8],"nice":false,"zero":false},"axis":null},"yError":{"field":"ce"}}},
{"mark":{"type":"line","strokeWidth":1},"encoding":{"x":{"field":"x","type":"quantitative","title":null,"scale":{"domain":[0.04,0.36],"nice":false,"zero":false}},"y":{"field":"c","type":"quantitative","scale":{"domain":[0.2,0.8],"nice":false,"zero":false},"axis":null},"color":{"datum":"CTR","type":"nominal"}}},
{"data":{"values":[{"t":"d)"}]},"mark":{"type":"text","align":"left","baseline":"middle","font":"Liberation Sans","fontSize":11,"color":"#000000"},"encoding":{"text":{"field":"t"},"x":{"datum":0.054,"type":"quantitative","title":null,"scale":{"domain":[0.04,0.36],"nice":false,"zero":false}},"y":{"datum":0.75,"type":"quantitative","scale":{"domain":[0.2,0.8],"nice":false,"zero":false},"axis":null}}},
{"mark":{"type":"line","strokeWidth":1.4,"point":{"filled":true,"size":10}},"encoding":{"x":{"field":"x","type":"quantitative","title":null,"scale":{"domain":[0.04,0.36],"nice":false,"zero":false}},"y":{"field":"r","type":"quantitative","scale":{"domain":[0,1],"nice":false,"zero":false},"axis":{"orient":"right","values":[0,0.2,0.4,0.6,0.8,1],"labelExpr":"datum.value<0.1?'':format(datum.value,'~g')","title":"Significance ratio","titleAngle":270,"titleBaseline":"top","grid":false,"domainColor":"#77ac30","labelColor":"#77ac30","titleColor":"#77ac30"}},"color":{"datum":"pₛ-ratio","type":"nominal"}}}],"resolve":{"scale":{"y":"independent"}}}]},
{"title":{"text":["200","subjects"],"orient":"left","angle":0,"align":"center","baseline":"middle","anchor":"middle","offset":-20,"fontSize":17,"lineHeight":22},"bounds":"flush","spacing":8,"hconcat":[
{"width":153,"height":125,"data":{"name":"d"},"transform":[{"filter":"datum.p==='e'"}],"layer":[
{"mark":{"type":"line","color":"#ee7d87","strokeWidth":1},"encoding":{"x":{"field":"x","type":"quantitative","title":"Network density","scale":{"domain":[0.04,0.36],"nice":false,"zero":false},"axis":{"values":[0.1,0.15,0.2,0.25,0.3,0.35],"tickCount":7,"labelOverlap":false,"labelExpr":"datum.value<0.07?'':format(datum.value,'~g')","title":"Network density"}},"y":{"field":"a","type":"quantitative","scale":{"domain":[0.2,0.8],"nice":false,"zero":false},"axis":{"orient":"left","grid":true,"values":[0.3,0.4,0.5,0.6,0.7,0.8],"format":".1f","labelOverlap":false,"labelSeparation":0,"title":"Clustering"}}}},
{"data":{"name":"v"},"mark":{"type":"rule","color":"#777777","strokeWidth":1.2},"encoding":{"x":{"field":"v","type":"quantitative","title":"Network density","scale":{"domain":[0.04,0.36],"nice":false,"zero":false}}}},
{"mark":{"type":"errorbar","ticks":{"size":3},"color":"#f5a9ae","thickness":0.8},"encoding":{"x":{"field":"x","type":"quantitative","title":"Network density","scale":{"domain":[0.04,0.36],"nice":false,"zero":false}},"y":{"field":"a","type":"quantitative","scale":{"domain":[0.2,0.8],"nice":false,"zero":false},"axis":null},"yError":{"field":"ae"}}},
{"mark":{"type":"errorbar","ticks":{"size":3},"color":"#aaaaf5","thickness":0.8},"encoding":{"x":{"field":"x","type":"quantitative","title":"Network density","scale":{"domain":[0.04,0.36],"nice":false,"zero":false}},"y":{"field":"c","type":"quantitative","scale":{"domain":[0.2,0.8],"nice":false,"zero":false},"axis":null},"yError":{"field":"ce"}}},
{"mark":{"type":"line","color":"#7d7dee","strokeWidth":1},"encoding":{"x":{"field":"x","type":"quantitative","title":"Network density","scale":{"domain":[0.04,0.36],"nice":false,"zero":false}},"y":{"field":"c","type":"quantitative","scale":{"domain":[0.2,0.8],"nice":false,"zero":false},"axis":null}}},
{"data":{"values":[{"t":"e)"}]},"mark":{"type":"text","align":"left","baseline":"middle","font":"Liberation Sans","fontSize":11,"color":"#000000"},"encoding":{"text":{"field":"t"},"x":{"datum":0.054,"type":"quantitative","title":"Network density","scale":{"domain":[0.04,0.36],"nice":false,"zero":false}},"y":{"datum":0.75,"type":"quantitative","scale":{"domain":[0.2,0.8],"nice":false,"zero":false},"axis":null}}},
{"mark":{"type":"line","color":"#77ac30","strokeWidth":1.4,"point":{"filled":true,"size":10,"color":"#77ac30"}},"encoding":{"x":{"field":"x","type":"quantitative","title":"Network density","scale":{"domain":[0.04,0.36],"nice":false,"zero":false}},"y":{"field":"r","type":"quantitative","scale":{"domain":[0,1],"nice":false,"zero":false},"axis":{"orient":"right","values":[0,0.2,0.4,0.6,0.8,1],"labels":false,"title":null,"grid":false,"domainColor":"#77ac30"}}}}],"resolve":{"scale":{"y":"independent"}}},
{"width":153,"height":125,"data":{"name":"d"},"transform":[{"filter":"datum.p==='f'"}],"layer":[
{"mark":{"type":"line","color":"#ee7d87","strokeWidth":1},"encoding":{"x":{"field":"x","type":"quantitative","title":"Network density","scale":{"domain":[0.04,0.36],"nice":false,"zero":false},"axis":{"values":[0.1,0.15,0.2,0.25,0.3,0.35],"tickCount":7,"labelOverlap":false,"labelExpr":"datum.value<0.07?'':format(datum.value,'~g')","title":"Network density"}},"y":{"field":"a","type":"quantitative","scale":{"domain":[0.2,0.8],"nice":false,"zero":false},"axis":{"orient":"left","grid":true,"values":[0.3,0.4,0.5,0.6,0.7,0.8],"labels":false,"title":null}}}},
{"data":{"name":"v"},"mark":{"type":"rule","color":"#777777","strokeWidth":1.2},"encoding":{"x":{"field":"v","type":"quantitative","title":"Network density","scale":{"domain":[0.04,0.36],"nice":false,"zero":false}}}},
{"mark":{"type":"errorbar","ticks":{"size":3},"color":"#f5a9ae","thickness":0.8},"encoding":{"x":{"field":"x","type":"quantitative","title":"Network density","scale":{"domain":[0.04,0.36],"nice":false,"zero":false}},"y":{"field":"a","type":"quantitative","scale":{"domain":[0.2,0.8],"nice":false,"zero":false},"axis":null},"yError":{"field":"ae"}}},
{"mark":{"type":"errorbar","ticks":{"size":3},"color":"#aaaaf5","thickness":0.8},"encoding":{"x":{"field":"x","type":"quantitative","title":"Network density","scale":{"domain":[0.04,0.36],"nice":false,"zero":false}},"y":{"field":"c","type":"quantitative","scale":{"domain":[0.2,0.8],"nice":false,"zero":false},"axis":null},"yError":{"field":"ce"}}},
{"mark":{"type":"line","color":"#7d7dee","strokeWidth":1},"encoding":{"x":{"field":"x","type":"quantitative","title":"Network density","scale":{"domain":[0.04,0.36],"nice":false,"zero":false}},"y":{"field":"c","type":"quantitative","scale":{"domain":[0.2,0.8],"nice":false,"zero":false},"axis":null}}},
{"data":{"values":[{"t":"f)"}]},"mark":{"type":"text","align":"left","baseline":"middle","font":"Liberation Sans","fontSize":11,"color":"#000000"},"encoding":{"text":{"field":"t"},"x":{"datum":0.054,"type":"quantitative","title":"Network density","scale":{"domain":[0.04,0.36],"nice":false,"zero":false}},"y":{"datum":0.75,"type":"quantitative","scale":{"domain":[0.2,0.8],"nice":false,"zero":false},"axis":null}}},
{"mark":{"type":"line","color":"#77ac30","strokeWidth":1.4,"point":{"filled":true,"size":10,"color":"#77ac30"}},"encoding":{"x":{"field":"x","type":"quantitative","title":"Network density","scale":{"domain":[0.04,0.36],"nice":false,"zero":false}},"y":{"field":"r","type":"quantitative","scale":{"domain":[0,1],"nice":false,"zero":false},"axis":{"orient":"right","values":[0,0.2,0.4,0.6,0.8,1],"labels":false,"title":null,"grid":false,"domainColor":"#77ac30"}}}}],"resolve":{"scale":{"y":"independent"}}},
{"width":153,"height":125,"data":{"name":"d"},"transform":[{"filter":"datum.p==='g'"}],"layer":[
{"mark":{"type":"line","color":"#ee7d87","strokeWidth":1},"encoding":{"x":{"field":"x","type":"quantitative","title":"Network density","scale":{"domain":[0.04,0.36],"nice":false,"zero":false},"axis":{"values":[0.1,0.15,0.2,0.25,0.3,0.35],"tickCount":7,"labelOverlap":false,"labelExpr":"datum.value<0.07?'':format(datum.value,'~g')","title":"Network density"}},"y":{"field":"a","type":"quantitative","scale":{"domain":[0.2,0.8],"nice":false,"zero":false},"axis":{"orient":"left","grid":true,"values":[0.3,0.4,0.5,0.6,0.7,0.8],"labels":false,"title":null}}}},
{"data":{"name":"v"},"mark":{"type":"rule","color":"#777777","strokeWidth":1.2},"encoding":{"x":{"field":"v","type":"quantitative","title":"Network density","scale":{"domain":[0.04,0.36],"nice":false,"zero":false}}}},
{"mark":{"type":"errorbar","ticks":{"size":3},"color":"#f5a9ae","thickness":0.8},"encoding":{"x":{"field":"x","type":"quantitative","title":"Network density","scale":{"domain":[0.04,0.36],"nice":false,"zero":false}},"y":{"field":"a","type":"quantitative","scale":{"domain":[0.2,0.8],"nice":false,"zero":false},"axis":null},"yError":{"field":"ae"}}},
{"mark":{"type":"errorbar","ticks":{"size":3},"color":"#aaaaf5","thickness":0.8},"encoding":{"x":{"field":"x","type":"quantitative","title":"Network density","scale":{"domain":[0.04,0.36],"nice":false,"zero":false}},"y":{"field":"c","type":"quantitative","scale":{"domain":[0.2,0.8],"nice":false,"zero":false},"axis":null},"yError":{"field":"ce"}}},
{"mark":{"type":"line","color":"#7d7dee","strokeWidth":1},"encoding":{"x":{"field":"x","type":"quantitative","title":"Network density","scale":{"domain":[0.04,0.36],"nice":false,"zero":false}},"y":{"field":"c","type":"quantitative","scale":{"domain":[0.2,0.8],"nice":false,"zero":false},"axis":null}}},
{"data":{"values":[{"t":"g)"}]},"mark":{"type":"text","align":"left","baseline":"middle","font":"Liberation Sans","fontSize":11,"color":"#000000"},"encoding":{"text":{"field":"t"},"x":{"datum":0.054,"type":"quantitative","title":"Network density","scale":{"domain":[0.04,0.36],"nice":false,"zero":false}},"y":{"datum":0.75,"type":"quantitative","scale":{"domain":[0.2,0.8],"nice":false,"zero":false},"axis":null}}},
{"mark":{"type":"line","color":"#77ac30","strokeWidth":1.4,"point":{"filled":true,"size":10,"color":"#77ac30"}},"encoding":{"x":{"field":"x","type":"quantitative","title":"Network density","scale":{"domain":[0.04,0.36],"nice":false,"zero":false}},"y":{"field":"r","type":"quantitative","scale":{"domain":[0,1],"nice":false,"zero":false},"axis":{"orient":"right","values":[0,0.2,0.4,0.6,0.8,1],"labels":false,"title":null,"grid":false,"domainColor":"#77ac30"}}}}],"resolve":{"scale":{"y":"independent"}}},
{"width":153,"height":125,"data":{"name":"d"},"transform":[{"filter":"datum.p==='h'"}],"layer":[
{"mark":{"type":"line","color":"#ee7d87","strokeWidth":1},"encoding":{"x":{"field":"x","type":"quantitative","title":"Network density","scale":{"domain":[0.04,0.36],"nice":false,"zero":false},"axis":{"values":[0.1,0.15,0.2,0.25,0.3,0.35],"tickCount":7,"labelOverlap":false,"labelExpr":"datum.value<0.07?'':format(datum.value,'~g')","title":"Network density"}},"y":{"field":"a","type":"quantitative","scale":{"domain":[0.2,0.8],"nice":false,"zero":false},"axis":{"orient":"left","grid":true,"values":[0.3,0.4,0.5,0.6,0.7,0.8],"labels":false,"title":null}}}},
{"data":{"name":"v"},"mark":{"type":"rule","color":"#777777","strokeWidth":1.2},"encoding":{"x":{"field":"v","type":"quantitative","title":"Network density","scale":{"domain":[0.04,0.36],"nice":false,"zero":false}}}},
{"mark":{"type":"errorbar","ticks":{"size":3},"color":"#f5a9ae","thickness":0.8},"encoding":{"x":{"field":"x","type":"quantitative","title":"Network density","scale":{"domain":[0.04,0.36],"nice":false,"zero":false}},"y":{"field":"a","type":"quantitative","scale":{"domain":[0.2,0.8],"nice":false,"zero":false},"axis":null},"yError":{"field":"ae"}}},
{"mark":{"type":"errorbar","ticks":{"size":3},"color":"#aaaaf5","thickness":0.8},"encoding":{"x":{"field":"x","type":"quantitative","title":"Network density","scale":{"domain":[0.04,0.36],"nice":false,"zero":false}},"y":{"field":"c","type":"quantitative","scale":{"domain":[0.2,0.8],"nice":false,"zero":false},"axis":null},"yError":{"field":"ce"}}},
{"mark":{"type":"line","color":"#7d7dee","strokeWidth":1},"encoding":{"x":{"field":"x","type":"quantitative","title":"Network density","scale":{"domain":[0.04,0.36],"nice":false,"zero":false}},"y":{"field":"c","type":"quantitative","scale":{"domain":[0.2,0.8],"nice":false,"zero":false},"axis":null}}},
{"data":{"values":[{"t":"h)"}]},"mark":{"type":"text","align":"left","baseline":"middle","font":"Liberation Sans","fontSize":11,"color":"#000000"},"encoding":{"text":{"field":"t"},"x":{"datum":0.054,"type":"quantitative","title":"Network density","scale":{"domain":[0.04,0.36],"nice":false,"zero":false}},"y":{"datum":0.75,"type":"quantitative","scale":{"domain":[0.2,0.8],"nice":false,"zero":false},"axis":null}}},
{"mark":{"type":"line","color":"#77ac30","strokeWidth":1.4,"point":{"filled":true,"size":10,"color":"#77ac30"}},"encoding":{"x":{"field":"x","type":"quantitative","title":"Network density","scale":{"domain":[0.04,0.36],"nice":false,"zero":false}},"y":{"field":"r","type":"quantitative","scale":{"domain":[0,1],"nice":false,"zero":false},"axis":{"orient":"right","values":[0,0.2,0.4,0.6,0.8,1],"labelExpr":"datum.value<0.1?'':format(datum.value,'~g')","title":"Significance ratio","titleAngle":270,"titleBaseline":"top","grid":false,"domainColor":"#77ac30","labelColor":"#77ac30","titleColor":"#77ac30"}}}}],"resolve":{"scale":{"y":"independent"}}}]},
{"title":{"text":["15%","density"],"orient":"left","angle":0,"align":"center","baseline":"middle","anchor":"middle","offset":-23,"fontSize":17,"lineHeight":22},"bounds":"flush","spacing":8,"hconcat":[
{"width":153,"height":125,"data":{"name":"d"},"transform":[{"filter":"datum.p==='i'"}],"layer":[
{"mark":{"type":"line","color":"#ee7d87","strokeWidth":1},"encoding":{"x":{"field":"x","type":"quantitative","title":null,"scale":{"domain":[50,290],"nice":false,"zero":false},"axis":{"values":[100,150,200,250],"tickCount":5,"labels":false,"title":null}},"y":{"field":"a","type":"quantitative","scale":{"domain":[0.2,0.8],"nice":false,"zero":false},"axis":{"orient":"left","grid":true,"values":[0.3,0.4,0.5,0.6,0.7,0.8],"format":".1f","labelOverlap":false,"labelSeparation":0,"title":"Clustering"}}}},
{"mark":{"type":"errorbar","ticks":{"size":2.5},"color":"#f5a9ae","thickness":0.8},"encoding":{"x":{"field":"x","type":"quantitative","title":null,"scale":{"domain":[50,290],"nice":false,"zero":false}},"y":{"field":"a","type":"quantitative","scale":{"domain":[0.2,0.8],"nice":false,"zero":false},"axis":null},"yError":{"field":"ae"}}},
{"mark":{"type":"errorbar","ticks":{"size":2.5},"color":"#aaaaf5","thickness":0.8},"encoding":{"x":{"field":"x","type":"quantitative","title":null,"scale":{"domain":[50,290],"nice":false,"zero":false}},"y":{"field":"c","type":"quantitative","scale":{"domain":[0.2,0.8],"nice":false,"zero":false},"axis":null},"yError":{"field":"ce"}}},
{"mark":{"type":"line","color":"#7d7dee","strokeWidth":1},"encoding":{"x":{"field":"x","type":"quantitative","title":null,"scale":{"domain":[50,290],"nice":false,"zero":false}},"y":{"field":"c","type":"quantitative","scale":{"domain":[0.2,0.8],"nice":false,"zero":false},"axis":null}}},
{"data":{"values":[{"t":"i)"}]},"mark":{"type":"text","align":"left","baseline":"middle","font":"Liberation Sans","fontSize":11,"color":"#000000"},"encoding":{"text":{"field":"t"},"x":{"datum":61,"type":"quantitative","title":null,"scale":{"domain":[50,290],"nice":false,"zero":false}},"y":{"datum":0.745,"type":"quantitative","scale":{"domain":[0.2,0.8],"nice":false,"zero":false},"axis":null}}},
{"mark":{"type":"line","color":"#77ac30","strokeWidth":1.4,"point":{"filled":true,"size":10,"color":"#77ac30"}},"encoding":{"x":{"field":"x","type":"quantitative","title":null,"scale":{"domain":[50,290],"nice":false,"zero":false}},"y":{"field":"r","type":"quantitative","scale":{"domain":[0,1],"nice":false,"zero":false},"axis":{"orient":"right","values":[0,0.2,0.4,0.6,0.8,1],"labels":false,"title":null,"grid":false,"domainColor":"#77ac30"}}}}],"resolve":{"scale":{"y":"independent"}}},
{"width":153,"height":125,"data":{"name":"d"},"transform":[{"filter":"datum.p==='j'"}],"layer":[
{"mark":{"type":"line","color":"#ee7d87","strokeWidth":1},"encoding":{"x":{"field":"x","type":"quantitative","title":null,"scale":{"domain":[50,290],"nice":false,"zero":false},"axis":{"values":[100,150,200,250],"tickCount":5,"labels":false,"title":null}},"y":{"field":"a","type":"quantitative","scale":{"domain":[0.2,0.8],"nice":false,"zero":false},"axis":{"orient":"left","grid":true,"values":[0.3,0.4,0.5,0.6,0.7,0.8],"labels":false,"title":null}}}},
{"mark":{"type":"errorbar","ticks":{"size":2.5},"color":"#f5a9ae","thickness":0.8},"encoding":{"x":{"field":"x","type":"quantitative","title":null,"scale":{"domain":[50,290],"nice":false,"zero":false}},"y":{"field":"a","type":"quantitative","scale":{"domain":[0.2,0.8],"nice":false,"zero":false},"axis":null},"yError":{"field":"ae"}}},
{"mark":{"type":"errorbar","ticks":{"size":2.5},"color":"#aaaaf5","thickness":0.8},"encoding":{"x":{"field":"x","type":"quantitative","title":null,"scale":{"domain":[50,290],"nice":false,"zero":false}},"y":{"field":"c","type":"quantitative","scale":{"domain":[0.2,0.8],"nice":false,"zero":false},"axis":null},"yError":{"field":"ce"}}},
{"mark":{"type":"line","color":"#7d7dee","strokeWidth":1},"encoding":{"x":{"field":"x","type":"quantitative","title":null,"scale":{"domain":[50,290],"nice":false,"zero":false}},"y":{"field":"c","type":"quantitative","scale":{"domain":[0.2,0.8],"nice":false,"zero":false},"axis":null}}},
{"data":{"values":[{"t":"j)"}]},"mark":{"type":"text","align":"left","baseline":"middle","font":"Liberation Sans","fontSize":11,"color":"#000000"},"encoding":{"text":{"field":"t"},"x":{"datum":61,"type":"quantitative","title":null,"scale":{"domain":[50,290],"nice":false,"zero":false}},"y":{"datum":0.745,"type":"quantitative","scale":{"domain":[0.2,0.8],"nice":false,"zero":false},"axis":null}}},
{"mark":{"type":"line","color":"#77ac30","strokeWidth":1.4,"point":{"filled":true,"size":10,"color":"#77ac30"}},"encoding":{"x":{"field":"x","type":"quantitative","title":null,"scale":{"domain":[50,290],"nice":false,"zero":false}},"y":{"field":"r","type":"quantitative","scale":{"domain":[0,1],"nice":false,"zero":false},"axis":{"orient":"right","values":[0,0.2,0.4,0.6,0.8,1],"labels":false,"title":null,"grid":false,"domainColor":"#77ac30"}}}}],"resolve":{"scale":{"y":"independent"}}},
{"width":153,"height":125,"data":{"name":"d"},"transform":[{"filter":"datum.p==='k'"}],"layer":[
{"mark":{"type":"line","color":"#ee7d87","strokeWidth":1},"encoding":{"x":{"field":"x","type":"quantitative","title":null,"scale":{"domain":[50,290],"nice":false,"zero":false},"axis":{"values":[100,150,200,250],"tickCount":5,"labels":false,"title":null}},"y":{"field":"a","type":"quantitative","scale":{"domain":[0.2,0.8],"nice":false,"zero":false},"axis":{"orient":"left","grid":true,"values":[0.3,0.4,0.5,0.6,0.7,0.8],"labels":false,"title":null}}}},
{"mark":{"type":"errorbar","ticks":{"size":2.5},"color":"#f5a9ae","thickness":0.8},"encoding":{"x":{"field":"x","type":"quantitative","title":null,"scale":{"domain":[50,290],"nice":false,"zero":false}},"y":{"field":"a","type":"quantitative","scale":{"domain":[0.2,0.8],"nice":false,"zero":false},"axis":null},"yError":{"field":"ae"}}},
{"mark":{"type":"errorbar","ticks":{"size":2.5},"color":"#aaaaf5","thickness":0.8},"encoding":{"x":{"field":"x","type":"quantitative","title":null,"scale":{"domain":[50,290],"nice":false,"zero":false}},"y":{"field":"c","type":"quantitative","scale":{"domain":[0.2,0.8],"nice":false,"zero":false},"axis":null},"yError":{"field":"ce"}}},
{"mark":{"type":"line","color":"#7d7dee","strokeWidth":1},"encoding":{"x":{"field":"x","type":"quantitative","title":null,"scale":{"domain":[50,290],"nice":false,"zero":false}},"y":{"field":"c","type":"quantitative","scale":{"domain":[0.2,0.8],"nice":false,"zero":false},"axis":null}}},
{"data":{"values":[{"t":"k)"}]},"mark":{"type":"text","align":"left","baseline":"middle","font":"Liberation Sans","fontSize":11,"color":"#000000"},"encoding":{"text":{"field":"t"},"x":{"datum":61,"type":"quantitative","title":null,"scale":{"domain":[50,290],"nice":false,"zero":false}},"y":{"datum":0.745,"type":"quantitative","scale":{"domain":[0.2,0.8],"nice":false,"zero":false},"axis":null}}},
{"mark":{"type":"line","color":"#77ac30","strokeWidth":1.4,"point":{"filled":true,"size":10,"color":"#77ac30"}},"encoding":{"x":{"field":"x","type":"quantitative","title":null,"scale":{"domain":[50,290],"nice":false,"zero":false}},"y":{"field":"r","type":"quantitative","scale":{"domain":[0,1],"nice":false,"zero":false},"axis":{"orient":"right","values":[0,0.2,0.4,0.6,0.8,1],"labels":false,"title":null,"grid":false,"domainColor":"#77ac30"}}}}],"resolve":{"scale":{"y":"independent"}}},
{"width":153,"height":125,"data":{"name":"d"},"transform":[{"filter":"datum.p==='l'"}],"layer":[
{"mark":{"type":"line","color":"#ee7d87","strokeWidth":1},"encoding":{"x":{"field":"x","type":"quantitative","title":null,"scale":{"domain":[50,290],"nice":false,"zero":false},"axis":{"values":[100,150,200,250],"tickCount":5,"labels":false,"title":null}},"y":{"field":"a","type":"quantitative","scale":{"domain":[0.2,0.8],"nice":false,"zero":false},"axis":{"orient":"left","grid":true,"values":[0.3,0.4,0.5,0.6,0.7,0.8],"labels":false,"title":null}}}},
{"mark":{"type":"errorbar","ticks":{"size":2.5},"color":"#f5a9ae","thickness":0.8},"encoding":{"x":{"field":"x","type":"quantitative","title":null,"scale":{"domain":[50,290],"nice":false,"zero":false}},"y":{"field":"a","type":"quantitative","scale":{"domain":[0.2,0.8],"nice":false,"zero":false},"axis":null},"yError":{"field":"ae"}}},
{"mark":{"type":"errorbar","ticks":{"size":2.5},"color":"#aaaaf5","thickness":0.8},"encoding":{"x":{"field":"x","type":"quantitative","title":null,"scale":{"domain":[50,290],"nice":false,"zero":false}},"y":{"field":"c","type":"quantitative","scale":{"domain":[0.2,0.8],"nice":false,"zero":false},"axis":null},"yError":{"field":"ce"}}},
{"mark":{"type":"line","color":"#7d7dee","strokeWidth":1},"encoding":{"x":{"field":"x","type":"quantitative","title":null,"scale":{"domain":[50,290],"nice":false,"zero":false}},"y":{"field":"c","type":"quantitative","scale":{"domain":[0.2,0.8],"nice":false,"zero":false},"axis":null}}},
{"data":{"values":[{"t":"l)"}]},"mark":{"type":"text","align":"left","baseline":"middle","font":"Liberation Sans","fontSize":11,"color":"#000000"},"encoding":{"text":{"field":"t"},"x":{"datum":61,"type":"quantitative","title":null,"scale":{"domain":[50,290],"nice":false,"zero":false}},"y":{"datum":0.745,"type":"quantitative","scale":{"domain":[0.2,0.8],"nice":false,"zero":false},"axis":null}}},
{"mark":{"type":"line","color":"#77ac30","strokeWidth":1.4,"point":{"filled":true,"size":10,"color":"#77ac30"}},"encoding":{"x":{"field":"x","type":"quantitative","title":null,"scale":{"domain":[50,290],"nice":false,"zero":false}},"y":{"field":"r","type":"quantitative","scale":{"domain":[0,1],"nice":false,"zero":false},"axis":{"orient":"right","values":[0,0.2,0.4,0.6,0.8,1],"labelExpr":"datum.value<0.1?'':format(datum.value,'~g')","title":"Significance ratio","titleAngle":270,"titleBaseline":"top","grid":false,"domainColor":"#77ac30","labelColor":"#77ac30","titleColor":"#77ac30"}}}}],"resolve":{"scale":{"y":"independent"}}}]},
{"title":{"text":["25%","density"],"orient":"left","angle":0,"align":"center","baseline":"middle","anchor":"middle","offset":-23,"fontSize":17,"lineHeight":22},"bounds":"flush","spacing":8,"hconcat":[
{"width":153,"height":125,"data":{"name":"d"},"transform":[{"filter":"datum.p==='m'"}],"layer":[
{"mark":{"type":"line","color":"#ee7d87","strokeWidth":1},"encoding":{"x":{"field":"x","type":"quantitative","title":"Number of subjects","scale":{"domain":[50,290],"nice":false,"zero":false},"axis":{"values":[100,150,200,250],"tickCount":5,"labelOverlap":false,"labelExpr":"datum.value<75?'':format(datum.value,'d')","title":"Number of subjects"}},"y":{"field":"a","type":"quantitative","scale":{"domain":[0.2,0.8],"nice":false,"zero":false},"axis":{"orient":"left","grid":true,"values":[0.3,0.4,0.5,0.6,0.7,0.8],"format":".1f","labelOverlap":false,"labelSeparation":0,"title":"Clustering"}}}},
{"mark":{"type":"errorbar","ticks":{"size":2.5},"color":"#f5a9ae","thickness":0.8},"encoding":{"x":{"field":"x","type":"quantitative","title":"Number of subjects","scale":{"domain":[50,290],"nice":false,"zero":false}},"y":{"field":"a","type":"quantitative","scale":{"domain":[0.2,0.8],"nice":false,"zero":false},"axis":null},"yError":{"field":"ae"}}},
{"mark":{"type":"errorbar","ticks":{"size":2.5},"color":"#aaaaf5","thickness":0.8},"encoding":{"x":{"field":"x","type":"quantitative","title":"Number of subjects","scale":{"domain":[50,290],"nice":false,"zero":false}},"y":{"field":"c","type":"quantitative","scale":{"domain":[0.2,0.8],"nice":false,"zero":false},"axis":null},"yError":{"field":"ce"}}},
{"mark":{"type":"line","color":"#7d7dee","strokeWidth":1},"encoding":{"x":{"field":"x","type":"quantitative","title":"Number of subjects","scale":{"domain":[50,290],"nice":false,"zero":false}},"y":{"field":"c","type":"quantitative","scale":{"domain":[0.2,0.8],"nice":false,"zero":false},"axis":null}}},
{"data":{"values":[{"t":"m)"}]},"mark":{"type":"text","align":"left","baseline":"middle","font":"Liberation Sans","fontSize":11,"color":"#000000"},"encoding":{"text":{"field":"t"},"x":{"datum":61,"type":"quantitative","title":"Number of subjects","scale":{"domain":[50,290],"nice":false,"zero":false}},"y":{"datum":0.745,"type":"quantitative","scale":{"domain":[0.2,0.8],"nice":false,"zero":false},"axis":null}}},
{"mark":{"type":"line","color":"#77ac30","strokeWidth":1.4,"point":{"filled":true,"size":10,"color":"#77ac30"}},"encoding":{"x":{"field":"x","type":"quantitative","title":"Number of subjects","scale":{"domain":[50,290],"nice":false,"zero":false}},"y":{"field":"r","type":"quantitative","scale":{"domain":[0,1],"nice":false,"zero":false},"axis":{"orient":"right","values":[0,0.2,0.4,0.6,0.8,1],"labels":false,"title":null,"grid":false,"domainColor":"#77ac30"}}}}],"resolve":{"scale":{"y":"independent"}}},
{"width":153,"height":125,"data":{"name":"d"},"transform":[{"filter":"datum.p==='n'"}],"layer":[
{"mark":{"type":"line","color":"#ee7d87","strokeWidth":1},"encoding":{"x":{"field":"x","type":"quantitative","title":"Number of subjects","scale":{"domain":[50,290],"nice":false,"zero":false},"axis":{"values":[100,150,200,250],"tickCount":5,"labelOverlap":false,"labelExpr":"datum.value<75?'':format(datum.value,'d')","title":"Number of subjects"}},"y":{"field":"a","type":"quantitative","scale":{"domain":[0.2,0.8],"nice":false,"zero":false},"axis":{"orient":"left","grid":true,"values":[0.3,0.4,0.5,0.6,0.7,0.8],"labels":false,"title":null}}}},
{"mark":{"type":"errorbar","ticks":{"size":2.5},"color":"#f5a9ae","thickness":0.8},"encoding":{"x":{"field":"x","type":"quantitative","title":"Number of subjects","scale":{"domain":[50,290],"nice":false,"zero":false}},"y":{"field":"a","type":"quantitative","scale":{"domain":[0.2,0.8],"nice":false,"zero":false},"axis":null},"yError":{"field":"ae"}}},
{"mark":{"type":"errorbar","ticks":{"size":2.5},"color":"#aaaaf5","thickness":0.8},"encoding":{"x":{"field":"x","type":"quantitative","title":"Number of subjects","scale":{"domain":[50,290],"nice":false,"zero":false}},"y":{"field":"c","type":"quantitative","scale":{"domain":[0.2,0.8],"nice":false,"zero":false},"axis":null},"yError":{"field":"ce"}}},
{"mark":{"type":"line","color":"#7d7dee","strokeWidth":1},"encoding":{"x":{"field":"x","type":"quantitative","title":"Number of subjects","scale":{"domain":[50,290],"nice":false,"zero":false}},"y":{"field":"c","type":"quantitative","scale":{"domain":[0.2,0.8],"nice":false,"zero":false},"axis":null}}},
{"data":{"values":[{"t":"n)"}]},"mark":{"type":"text","align":"left","baseline":"middle","font":"Liberation Sans","fontSize":11,"color":"#000000"},"encoding":{"text":{"field":"t"},"x":{"datum":61,"type":"quantitative","title":"Number of subjects","scale":{"domain":[50,290],"nice":false,"zero":false}},"y":{"datum":0.745,"type":"quantitative","scale":{"domain":[0.2,0.8],"nice":false,"zero":false},"axis":null}}},
{"mark":{"type":"line","color":"#77ac30","strokeWidth":1.4,"point":{"filled":true,"size":10,"color":"#77ac30"}},"encoding":{"x":{"field":"x","type":"quantitative","title":"Number of subjects","scale":{"domain":[50,290],"nice":false,"zero":false}},"y":{"field":"r","type":"quantitative","scale":{"domain":[0,1],"nice":false,"zero":false},"axis":{"orient":"right","values":[0,0.2,0.4,0.6,0.8,1],"labels":false,"title":null,"grid":false,"domainColor":"#77ac30"}}}}],"resolve":{"scale":{"y":"independent"}}},
{"width":153,"height":125,"data":{"name":"d"},"transform":[{"filter":"datum.p==='o'"}],"layer":[
{"mark":{"type":"line","color":"#ee7d87","strokeWidth":1},"encoding":{"x":{"field":"x","type":"quantitative","title":"Number of subjects","scale":{"domain":[50,290],"nice":false,"zero":false},"axis":{"values":[100,150,200,250],"tickCount":5,"labelOverlap":false,"labelExpr":"datum.value<75?'':format(datum.value,'d')","title":"Number of subjects"}},"y":{"field":"a","type":"quantitative","scale":{"domain":[0.2,0.8],"nice":false,"zero":false},"axis":{"orient":"left","grid":true,"values":[0.3,0.4,0.5,0.6,0.7,0.8],"labels":false,"title":null}}}},
{"mark":{"type":"errorbar","ticks":{"size":2.5},"color":"#f5a9ae","thickness":0.8},"encoding":{"x":{"field":"x","type":"quantitative","title":"Number of subjects","scale":{"domain":[50,290],"nice":false,"zero":false}},"y":{"field":"a","type":"quantitative","scale":{"domain":[0.2,0.8],"nice":false,"zero":false},"axis":null},"yError":{"field":"ae"}}},
{"mark":{"type":"errorbar","ticks":{"size":2.5},"color":"#aaaaf5","thickness":0.8},"encoding":{"x":{"field":"x","type":"quantitative","title":"Number of subjects","scale":{"domain":[50,290],"nice":false,"zero":false}},"y":{"field":"c","type":"quantitative","scale":{"domain":[0.2,0.8],"nice":false,"zero":false},"axis":null},"yError":{"field":"ce"}}},
{"mark":{"type":"line","color":"#7d7dee","strokeWidth":1},"encoding":{"x":{"field":"x","type":"quantitative","title":"Number of subjects","scale":{"domain":[50,290],"nice":false,"zero":false}},"y":{"field":"c","type":"quantitative","scale":{"domain":[0.2,0.8],"nice":false,"zero":false},"axis":null}}},
{"data":{"values":[{"t":"o)"}]},"mark":{"type":"text","align":"left","baseline":"middle","font":"Liberation Sans","fontSize":11,"color":"#000000"},"encoding":{"text":{"field":"t"},"x":{"datum":61,"type":"quantitative","title":"Number of subjects","scale":{"domain":[50,290],"nice":false,"zero":false}},"y":{"datum":0.745,"type":"quantitative","scale":{"domain":[0.2,0.8],"nice":false,"zero":false},"axis":null}}},
{"mark":{"type":"line","color":"#77ac30","strokeWidth":1.4,"point":{"filled":true,"size":10,"color":"#77ac30"}},"encoding":{"x":{"field":"x","type":"quantitative","title":"Number of subjects","scale":{"domain":[50,290],"nice":false,"zero":false}},"y":{"field":"r","type":"quantitative","scale":{"domain":[0,1],"nice":false,"zero":false},"axis":{"orient":"right","values":[0,0.2,0.4,0.6,0.8,1],"labels":false,"title":null,"grid":false,"domainColor":"#77ac30"}}}}],"resolve":{"scale":{"y":"independent"}}},
{"width":153,"height":125,"data":{"name":"d"},"transform":[{"filter":"datum.p==='p'"}],"layer":[
{"mark":{"type":"line","color":"#ee7d87","strokeWidth":1},"encoding":{"x":{"field":"x","type":"quantitative","title":"Number of subjects","scale":{"domain":[50,290],"nice":false,"zero":false},"axis":{"values":[100,150,200,250],"tickCount":5,"labelOverlap":false,"labelExpr":"datum.value<75?'':format(datum.value,'d')","title":"Number of subjects"}},"y":{"field":"a","type":"quantitative","scale":{"domain":[0.2,0.8],"nice":false,"zero":false},"axis":{"orient":"left","grid":true,"values":[0.3,0.4,0.5,0.6,0.7,0.8],"labels":false,"title":null}}}},
{"mark":{"type":"errorbar","ticks":{"size":2.5},"color":"#f5a9ae","thickness":0.8},"encoding":{"x":{"field":"x","type":"quantitative","title":"Number of subjects","scale":{"domain":[50,290],"nice":false,"zero":false}},"y":{"field":"a","type":"quantitative","scale":{"domain":[0.2,0.8],"nice":false,"zero":false},"axis":null},"yError":{"field":"ae"}}},
{"mark":{"type":"errorbar","ticks":{"size":2.5},"color":"#aaaaf5","thickness":0.8},"encoding":{"x":{"field":"x","type":"quantitative","title":"Number of subjects","scale":{"domain":[50,290],"nice":false,"zero":false}},"y":{"field":"c","type":"quantitative","scale":{"domain":[0.2,0.8],"nice":false,"zero":false},"axis":null},"yError":{"field":"ce"}}},
{"mark":{"type":"line","color":"#7d7dee","strokeWidth":1},"encoding":{"x":{"field":"x","type":"quantitative","title":"Number of subjects","scale":{"domain":[50,290],"nice":false,"zero":false}},"y":{"field":"c","type":"quantitative","scale":{"domain":[0.2,0.8],"nice":false,"zero":false},"axis":null}}},
{"data":{"values":[{"t":"p)"}]},"mark":{"type":"text","align":"left","baseline":"middle","font":"Liberation Sans","fontSize":11,"color":"#000000"},"encoding":{"text":{"field":"t"},"x":{"datum":61,"type":"quantitative","title":"Number of subjects","scale":{"domain":[50,290],"nice":false,"zero":false}},"y":{"datum":0.745,"type":"quantitative","scale":{"domain":[0.2,0.8],"nice":false,"zero":false},"axis":null}}},
{"mark":{"type":"line","color":"#77ac30","strokeWidth":1.4,"point":{"filled":true,"size":10,"color":"#77ac30"}},"encoding":{"x":{"field":"x","type":"quantitative","title":"Number of subjects","scale":{"domain":[50,290],"nice":false,"zero":false}},"y":{"field":"r","type":"quantitative","scale":{"domain":[0,1],"nice":false,"zero":false},"axis":{"orient":"right","values":[0,0.2,0.4,0.6,0.8,1],"labelExpr":"datum.value<0.1?'':format(datum.value,'~g')","title":"Significance ratio","titleAngle":270,"titleBaseline":"top","grid":false,"domainColor":"#77ac30","labelColor":"#77ac30","titleColor":"#77ac30"}}}}],"resolve":{"scale":{"y":"independent"}}}]}
],
"align":"each",
"spacing":0,
"resolve":{"scale":{"color":"independent"},"legend":{"color":"independent"}}}
